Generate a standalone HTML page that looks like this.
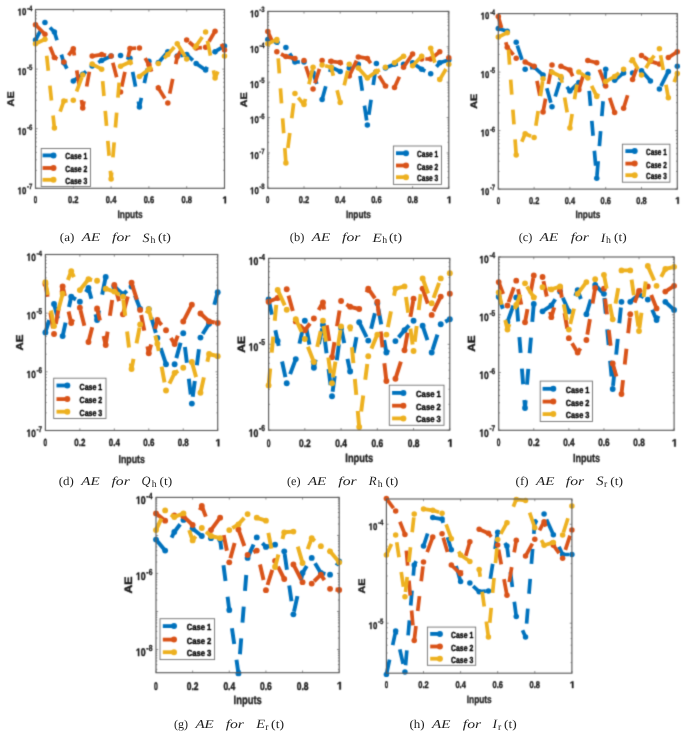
<!DOCTYPE html>
<html><head><meta charset="utf-8"><style>
html,body{margin:0;padding:0;background:#fff;}
svg{display:block}
text{font-family:"Liberation Sans",sans-serif;text-rendering:geometricPrecision}
.tk{font-size:9.8px;font-weight:bold;fill:#1a1a1a;stroke:#1a1a1a;stroke-width:0.4px}
.sup{font-size:7.8px;font-weight:bold;fill:#1a1a1a;stroke:#1a1a1a;stroke-width:0.3px}
.lab{font-size:10.8px;font-weight:bold;fill:#222;stroke:#222;stroke-width:0.3px}
.lab2{font-size:10.9px;font-weight:bold;fill:#1a1a1a;stroke:#1a1a1a;stroke-width:0.4px}
.lg{font-size:8.8px;font-weight:bold;fill:#000;stroke:#000;stroke-width:0.4px}
.cap{font-family:"Liberation Serif",serif;font-size:12px;fill:#1e1e1e}
.it{font-style:italic}
.sb{font-size:9.8px;font-style:normal}
.ln{fill:none;stroke-linejoin:round}
</style></head>
<body><svg width="685" height="733" viewBox="0 0 685 733">
<defs><path id="one1" d="M478 0L478 1170L140 959L140 1180L493 1409L759 1409L759 0Z" fill="#1a1a1a" stroke="#1a1a1a" stroke-width="0.4" vector-effect="non-scaling-stroke"/><filter id="bl" x="0" y="0" width="685" height="733" filterUnits="userSpaceOnUse" color-interpolation-filters="sRGB"><feConvolveMatrix order="3" kernelMatrix="0.0277 0.1110 0.0277 0.1110 0.4452 0.1110 0.0277 0.1110 0.0277" edgeMode="duplicate"/></filter><filter id="idf" x="0" y="0" width="685" height="733" filterUnits="userSpaceOnUse"><feOffset dx="0" dy="0"/></filter></defs>
<g filter="url(#bl)">
<rect width="685" height="733" fill="#fff"/>
<clipPath id="cpa"><rect x="31.5" y="5.5" width="197.0" height="186.8"/></clipPath>
<path d="M35.50 188.30v-2.2M35.50 9.50v2.2M73.30 188.30v-2.2M73.30 9.50v2.2M111.10 188.30v-2.2M111.10 9.50v2.2M148.90 188.30v-2.2M148.90 9.50v2.2M186.70 188.30v-2.2M186.70 9.50v2.2M224.50 188.30v-2.2M224.50 9.50v2.2M35.50 188.30h2.2M224.50 188.30h-2.2M35.50 170.36h1.3M224.50 170.36h-1.3M35.50 159.86h1.3M224.50 159.86h-1.3M35.50 152.42h1.3M224.50 152.42h-1.3M35.50 146.64h1.3M224.50 146.64h-1.3M35.50 141.92h1.3M224.50 141.92h-1.3M35.50 137.93h1.3M224.50 137.93h-1.3M35.50 134.48h1.3M224.50 134.48h-1.3M35.50 131.43h1.3M224.50 131.43h-1.3M35.50 128.70h2.2M224.50 128.70h-2.2M35.50 110.76h1.3M224.50 110.76h-1.3M35.50 100.26h1.3M224.50 100.26h-1.3M35.50 92.82h1.3M224.50 92.82h-1.3M35.50 87.04h1.3M224.50 87.04h-1.3M35.50 82.32h1.3M224.50 82.32h-1.3M35.50 78.33h1.3M224.50 78.33h-1.3M35.50 74.88h1.3M224.50 74.88h-1.3M35.50 71.83h1.3M224.50 71.83h-1.3M35.50 69.10h2.2M224.50 69.10h-2.2M35.50 51.16h1.3M224.50 51.16h-1.3M35.50 40.66h1.3M224.50 40.66h-1.3M35.50 33.22h1.3M224.50 33.22h-1.3M35.50 27.44h1.3M224.50 27.44h-1.3M35.50 22.72h1.3M224.50 22.72h-1.3M35.50 18.73h1.3M224.50 18.73h-1.3M35.50 15.28h1.3M224.50 15.28h-1.3M35.50 12.23h1.3M224.50 12.23h-1.3M35.50 9.50h2.2M224.50 9.50h-2.2" stroke="#4d4d4d" stroke-width="0.6" fill="none"/>
<g transform="translate(35.50,188.30) scale(1.0)"><text x="-1.70" y="15.00" class="tk" textLength="3.4" lengthAdjust="spacingAndGlyphs">0</text></g>
<g transform="translate(73.30,188.30) scale(1.0)"><text x="-5.25" y="15.00" class="tk" textLength="10.5" lengthAdjust="spacingAndGlyphs">0.2</text></g>
<g transform="translate(111.10,188.30) scale(1.0)"><text x="-5.25" y="15.00" class="tk" textLength="10.5" lengthAdjust="spacingAndGlyphs">0.4</text></g>
<g transform="translate(148.90,188.30) scale(1.0)"><text x="-5.25" y="15.00" class="tk" textLength="10.5" lengthAdjust="spacingAndGlyphs">0.6</text></g>
<g transform="translate(186.70,188.30) scale(1.0)"><text x="-5.25" y="15.00" class="tk" textLength="10.5" lengthAdjust="spacingAndGlyphs">0.8</text></g>
<g transform="translate(224.50,188.30) scale(1.0)"><use href="#one1" transform="translate(-2.151,15.0) scale(0.004785,-0.004785)"/></g>
<g transform="translate(35.50,9.50) scale(1.0)"><use href="#one1" transform="translate(-17.9,5.9) scale(0.003819,-0.004785)"/><text x="-13.55" y="5.9" class="tk" textLength="4.35" lengthAdjust="spacingAndGlyphs">0</text><text x="-8.6" y="1.0" class="sup" textLength="5.4" lengthAdjust="spacingAndGlyphs">-4</text></g>
<g transform="translate(35.50,69.10) scale(1.0)"><use href="#one1" transform="translate(-17.9,5.9) scale(0.003819,-0.004785)"/><text x="-13.55" y="5.9" class="tk" textLength="4.35" lengthAdjust="spacingAndGlyphs">0</text><text x="-8.6" y="1.0" class="sup" textLength="5.4" lengthAdjust="spacingAndGlyphs">-5</text></g>
<g transform="translate(35.50,128.70) scale(1.0)"><use href="#one1" transform="translate(-17.9,5.9) scale(0.003819,-0.004785)"/><text x="-13.55" y="5.9" class="tk" textLength="4.35" lengthAdjust="spacingAndGlyphs">0</text><text x="-8.6" y="1.0" class="sup" textLength="5.4" lengthAdjust="spacingAndGlyphs">-6</text></g>
<g transform="translate(35.50,188.30) scale(1.0)"><use href="#one1" transform="translate(-17.9,5.9) scale(0.003819,-0.004785)"/><text x="-13.55" y="5.9" class="tk" textLength="4.35" lengthAdjust="spacingAndGlyphs">0</text><text x="-8.6" y="1.0" class="sup" textLength="5.4" lengthAdjust="spacingAndGlyphs">-7</text></g>
<g transform="translate(130.00,209.70) scale(1.0)"><text x="-12.5" y="8.2" class="lab" textLength="25.2" lengthAdjust="spacingAndGlyphs">Inputs</text></g>
<g transform="translate(35.50,98.90) scale(1.0)"><text transform="translate(-21.5,0) rotate(-90) scale(1,0.88)" class="lab2" text-anchor="middle">AE</text></g>
<g clip-path="url(#cpa)">
<path d="M35.50 40.00 L44.95 22.50 L54.40 32.00 L63.85 62.70 L73.30 80.90 L82.75 74.30 L92.20 66.00 L101.65 60.50 L111.10 56.10 L120.55 55.40 L130.00 58.30" stroke="#0072BD" class="ln" stroke-width="3.70" stroke-dasharray="15.00 15.00" stroke-dashoffset="3.00"/>
<path d="M130.00 58.30 L139.45 107.00 L148.90 61.20 L158.35 62.70 L167.80 51.70 L177.25 56.10 L186.70 54.60 L196.15 63.40" stroke="#0072BD" class="ln" stroke-width="3.70" stroke-dasharray="15.00 15.00" stroke-dashoffset="16.10"/>
<path d="M196.15 63.40 L205.60 70.00 L215.05 51.70 L224.50 45.90" stroke="#0072BD" class="ln" stroke-width="3.70" stroke-dasharray="15.00 15.00" stroke-dashoffset="0.00"/>
<g fill="#0072BD"><circle cx="35.50" cy="40.00" r="2.75"/><circle cx="44.95" cy="22.50" r="2.75"/><circle cx="54.40" cy="32.00" r="2.75"/><circle cx="63.85" cy="62.70" r="2.75"/><circle cx="73.30" cy="80.90" r="2.75"/><circle cx="82.75" cy="74.30" r="2.75"/><circle cx="92.20" cy="66.00" r="2.75"/><circle cx="101.65" cy="60.50" r="2.75"/><circle cx="111.10" cy="56.10" r="2.75"/><circle cx="120.55" cy="55.40" r="2.75"/><circle cx="130.00" cy="58.30" r="2.75"/><circle cx="139.45" cy="107.00" r="2.75"/><circle cx="148.90" cy="61.20" r="2.75"/><circle cx="158.35" cy="62.70" r="2.75"/><circle cx="167.80" cy="51.70" r="2.75"/><circle cx="177.25" cy="56.10" r="2.75"/><circle cx="186.70" cy="54.60" r="2.75"/><circle cx="196.15" cy="63.40" r="2.75"/><circle cx="205.60" cy="70.00" r="2.75"/><circle cx="215.05" cy="51.70" r="2.75"/><circle cx="224.50" cy="45.90" r="2.75"/></g>
<path d="M35.50 24.70 L44.95 34.20 L54.40 57.60 L63.85 61.90 L73.30 48.80 L82.75 108.00 L92.20 56.10 L101.65 54.60 L111.10 56.10" stroke="#D95319" class="ln" stroke-width="3.70" stroke-dasharray="15.00 15.00" stroke-dashoffset="3.00"/>
<path d="M111.10 56.10 L120.55 92.00" stroke="#D95319" class="ln" stroke-width="3.70" stroke-dasharray="15.00 15.00" stroke-dashoffset="23.20"/>
<path d="M120.55 92.00 L130.00 48.50 L139.45 48.00 L148.90 64.80 L158.35 88.00 L167.80 103.00 L177.25 56.80 L186.70 40.00 L196.15 48.00 L205.60 47.30" stroke="#D95319" class="ln" stroke-width="3.70" stroke-dasharray="15.00 15.00" stroke-dashoffset="24.40"/>
<path d="M205.60 47.30 L215.05 31.30" stroke="#D95319" class="ln" stroke-width="3.70" stroke-dasharray="15.00 15.00" stroke-dashoffset="23.30"/>
<path d="M215.05 31.30 L224.50 50.00" stroke="#D95319" class="ln" stroke-width="3.70" stroke-dasharray="15.00 15.00" stroke-dashoffset="16.00"/>
<g fill="#D95319"><circle cx="35.50" cy="24.70" r="2.75"/><circle cx="44.95" cy="34.20" r="2.75"/><circle cx="54.40" cy="57.60" r="2.75"/><circle cx="63.85" cy="61.90" r="2.75"/><circle cx="73.30" cy="48.80" r="2.75"/><circle cx="82.75" cy="108.00" r="2.75"/><circle cx="92.20" cy="56.10" r="2.75"/><circle cx="101.65" cy="54.60" r="2.75"/><circle cx="111.10" cy="56.10" r="2.75"/><circle cx="120.55" cy="92.00" r="2.75"/><circle cx="130.00" cy="48.50" r="2.75"/><circle cx="139.45" cy="48.00" r="2.75"/><circle cx="148.90" cy="64.80" r="2.75"/><circle cx="158.35" cy="88.00" r="2.75"/><circle cx="167.80" cy="103.00" r="2.75"/><circle cx="177.25" cy="56.80" r="2.75"/><circle cx="186.70" cy="40.00" r="2.75"/><circle cx="196.15" cy="48.00" r="2.75"/><circle cx="205.60" cy="47.30" r="2.75"/><circle cx="215.05" cy="31.30" r="2.75"/><circle cx="224.50" cy="50.00" r="2.75"/></g>
<path d="M35.50 43.70 L44.95 39.30 L54.40 128.00 L63.85 101.00 L73.30 100.20 L82.75 75.00 L92.20 64.10 L101.65 69.20" stroke="#EDB120" class="ln" stroke-width="3.70" stroke-dasharray="15.00 15.00" stroke-dashoffset="3.00"/>
<path d="M101.65 69.20 L111.10 179.00 L120.55 66.30 L130.00 62.00 L139.45 76.50 L148.90 69.20 L158.35 63.40 L167.80 54.60 L177.25 43.70" stroke="#EDB120" class="ln" stroke-width="3.70" stroke-dasharray="15.00 15.00" stroke-dashoffset="18.10"/>
<path d="M177.25 43.70 L186.70 59.00 L196.15 45.90 L205.60 32.00 L215.05 78.00 L224.50 56.10" stroke="#EDB120" class="ln" stroke-width="3.70" stroke-dasharray="15.00 15.00" stroke-dashoffset="0.00"/>
<g fill="#EDB120"><circle cx="35.50" cy="43.70" r="2.75"/><circle cx="44.95" cy="39.30" r="2.75"/><circle cx="54.40" cy="128.00" r="2.75"/><circle cx="63.85" cy="101.00" r="2.75"/><circle cx="73.30" cy="100.20" r="2.75"/><circle cx="82.75" cy="75.00" r="2.75"/><circle cx="92.20" cy="64.10" r="2.75"/><circle cx="101.65" cy="69.20" r="2.75"/><circle cx="111.10" cy="179.00" r="2.75"/><circle cx="120.55" cy="66.30" r="2.75"/><circle cx="130.00" cy="62.00" r="2.75"/><circle cx="139.45" cy="76.50" r="2.75"/><circle cx="148.90" cy="69.20" r="2.75"/><circle cx="158.35" cy="63.40" r="2.75"/><circle cx="167.80" cy="54.60" r="2.75"/><circle cx="177.25" cy="43.70" r="2.75"/><circle cx="186.70" cy="59.00" r="2.75"/><circle cx="196.15" cy="45.90" r="2.75"/><circle cx="205.60" cy="32.00" r="2.75"/><circle cx="215.05" cy="78.00" r="2.75"/><circle cx="224.50" cy="56.10" r="2.75"/></g>
</g>
<rect x="35.50" y="9.50" width="189.00" height="178.80" fill="none" stroke="#5a5a5a" stroke-width="1.15"/>
<rect x="41.20" y="148.50" width="49.30" height="38.00" fill="#fff" stroke="#707070" stroke-width="0.9"/>
<path d="M42.60 155.40H53.50" stroke="#0072BD" stroke-width="3.8"/>
<circle cx="53.50" cy="155.40" r="3.0" fill="#0072BD"/>
<text x="65.30" y="159.40" class="lg" textLength="22.00" lengthAdjust="spacingAndGlyphs">Case 1</text>
<path d="M42.60 168.00H53.50" stroke="#D95319" stroke-width="3.8"/>
<circle cx="53.50" cy="168.00" r="3.0" fill="#D95319"/>
<text x="65.30" y="172.00" class="lg" textLength="22.00" lengthAdjust="spacingAndGlyphs">Case 2</text>
<path d="M42.60 179.80H53.50" stroke="#EDB120" stroke-width="3.8"/>
<circle cx="53.50" cy="179.80" r="3.0" fill="#EDB120"/>
<text x="65.30" y="183.80" class="lg" textLength="22.00" lengthAdjust="spacingAndGlyphs">Case 3</text>
<clipPath id="cpb"><rect x="263.8" y="7.4" width="189.0" height="184.9"/></clipPath>
<path d="M267.80 188.30v-2.2M267.80 11.40v2.2M304.00 188.30v-2.2M304.00 11.40v2.2M340.20 188.30v-2.2M340.20 11.40v2.2M376.40 188.30v-2.2M376.40 11.40v2.2M412.60 188.30v-2.2M412.60 11.40v2.2M448.80 188.30v-2.2M448.80 11.40v2.2M267.80 188.30h2.2M448.80 188.30h-2.2M267.80 177.65h1.3M448.80 177.65h-1.3M267.80 171.42h1.3M448.80 171.42h-1.3M267.80 167.00h1.3M448.80 167.00h-1.3M267.80 163.57h1.3M448.80 163.57h-1.3M267.80 160.77h1.3M448.80 160.77h-1.3M267.80 158.40h1.3M448.80 158.40h-1.3M267.80 156.35h1.3M448.80 156.35h-1.3M267.80 154.54h1.3M448.80 154.54h-1.3M267.80 152.92h2.2M448.80 152.92h-2.2M267.80 142.27h1.3M448.80 142.27h-1.3M267.80 136.04h1.3M448.80 136.04h-1.3M267.80 131.62h1.3M448.80 131.62h-1.3M267.80 128.19h1.3M448.80 128.19h-1.3M267.80 125.39h1.3M448.80 125.39h-1.3M267.80 123.02h1.3M448.80 123.02h-1.3M267.80 120.97h1.3M448.80 120.97h-1.3M267.80 119.16h1.3M448.80 119.16h-1.3M267.80 117.54h2.2M448.80 117.54h-2.2M267.80 106.89h1.3M448.80 106.89h-1.3M267.80 100.66h1.3M448.80 100.66h-1.3M267.80 96.24h1.3M448.80 96.24h-1.3M267.80 92.81h1.3M448.80 92.81h-1.3M267.80 90.01h1.3M448.80 90.01h-1.3M267.80 87.64h1.3M448.80 87.64h-1.3M267.80 85.59h1.3M448.80 85.59h-1.3M267.80 83.78h1.3M448.80 83.78h-1.3M267.80 82.16h2.2M448.80 82.16h-2.2M267.80 71.51h1.3M448.80 71.51h-1.3M267.80 65.28h1.3M448.80 65.28h-1.3M267.80 60.86h1.3M448.80 60.86h-1.3M267.80 57.43h1.3M448.80 57.43h-1.3M267.80 54.63h1.3M448.80 54.63h-1.3M267.80 52.26h1.3M448.80 52.26h-1.3M267.80 50.21h1.3M448.80 50.21h-1.3M267.80 48.40h1.3M448.80 48.40h-1.3M267.80 46.78h2.2M448.80 46.78h-2.2M267.80 36.13h1.3M448.80 36.13h-1.3M267.80 29.90h1.3M448.80 29.90h-1.3M267.80 25.48h1.3M448.80 25.48h-1.3M267.80 22.05h1.3M448.80 22.05h-1.3M267.80 19.25h1.3M448.80 19.25h-1.3M267.80 16.88h1.3M448.80 16.88h-1.3M267.80 14.83h1.3M448.80 14.83h-1.3M267.80 13.02h1.3M448.80 13.02h-1.3M267.80 11.40h2.2M448.80 11.40h-2.2" stroke="#4d4d4d" stroke-width="0.6" fill="none"/>
<g transform="translate(267.80,188.30) scale(0.99)"><text x="-1.70" y="15.00" class="tk" textLength="3.4" lengthAdjust="spacingAndGlyphs">0</text></g>
<g transform="translate(304.00,188.30) scale(0.99)"><text x="-5.25" y="15.00" class="tk" textLength="10.5" lengthAdjust="spacingAndGlyphs">0.2</text></g>
<g transform="translate(340.20,188.30) scale(0.99)"><text x="-5.25" y="15.00" class="tk" textLength="10.5" lengthAdjust="spacingAndGlyphs">0.4</text></g>
<g transform="translate(376.40,188.30) scale(0.99)"><text x="-5.25" y="15.00" class="tk" textLength="10.5" lengthAdjust="spacingAndGlyphs">0.6</text></g>
<g transform="translate(412.60,188.30) scale(0.99)"><text x="-5.25" y="15.00" class="tk" textLength="10.5" lengthAdjust="spacingAndGlyphs">0.8</text></g>
<g transform="translate(448.80,188.30) scale(0.99)"><use href="#one1" transform="translate(-2.151,15.0) scale(0.004785,-0.004785)"/></g>
<g transform="translate(267.80,11.40) scale(0.99)"><use href="#one1" transform="translate(-17.9,5.9) scale(0.003819,-0.004785)"/><text x="-13.55" y="5.9" class="tk" textLength="4.35" lengthAdjust="spacingAndGlyphs">0</text><text x="-8.6" y="1.0" class="sup" textLength="5.4" lengthAdjust="spacingAndGlyphs">-3</text></g>
<g transform="translate(267.80,46.78) scale(0.99)"><use href="#one1" transform="translate(-17.9,5.9) scale(0.003819,-0.004785)"/><text x="-13.55" y="5.9" class="tk" textLength="4.35" lengthAdjust="spacingAndGlyphs">0</text><text x="-8.6" y="1.0" class="sup" textLength="5.4" lengthAdjust="spacingAndGlyphs">-4</text></g>
<g transform="translate(267.80,82.16) scale(0.99)"><use href="#one1" transform="translate(-17.9,5.9) scale(0.003819,-0.004785)"/><text x="-13.55" y="5.9" class="tk" textLength="4.35" lengthAdjust="spacingAndGlyphs">0</text><text x="-8.6" y="1.0" class="sup" textLength="5.4" lengthAdjust="spacingAndGlyphs">-5</text></g>
<g transform="translate(267.80,117.54) scale(0.99)"><use href="#one1" transform="translate(-17.9,5.9) scale(0.003819,-0.004785)"/><text x="-13.55" y="5.9" class="tk" textLength="4.35" lengthAdjust="spacingAndGlyphs">0</text><text x="-8.6" y="1.0" class="sup" textLength="5.4" lengthAdjust="spacingAndGlyphs">-6</text></g>
<g transform="translate(267.80,152.92) scale(0.99)"><use href="#one1" transform="translate(-17.9,5.9) scale(0.003819,-0.004785)"/><text x="-13.55" y="5.9" class="tk" textLength="4.35" lengthAdjust="spacingAndGlyphs">0</text><text x="-8.6" y="1.0" class="sup" textLength="5.4" lengthAdjust="spacingAndGlyphs">-7</text></g>
<g transform="translate(267.80,188.30) scale(0.99)"><use href="#one1" transform="translate(-17.9,5.9) scale(0.003819,-0.004785)"/><text x="-13.55" y="5.9" class="tk" textLength="4.35" lengthAdjust="spacingAndGlyphs">0</text><text x="-8.6" y="1.0" class="sup" textLength="5.4" lengthAdjust="spacingAndGlyphs">-8</text></g>
<g transform="translate(358.30,209.50) scale(0.99)"><text x="-12.5" y="8.2" class="lab" textLength="25.2" lengthAdjust="spacingAndGlyphs">Inputs</text></g>
<g transform="translate(267.80,99.85) scale(0.99)"><text transform="translate(-21.5,0) rotate(-90) scale(1,0.88)" class="lab2" text-anchor="middle">AE</text></g>
<g clip-path="url(#cpb)">
<path d="M267.80 39.40 L276.85 42.30 L285.90 47.40 L294.95 62.00 L304.00 62.00 L313.05 73.00 L322.10 99.50 L331.15 67.20 L340.20 71.50 L349.25 67.90 L358.30 64.20" stroke="#0072BD" class="ln" stroke-width="3.70" stroke-dasharray="15.00 15.00" stroke-dashoffset="3.00"/>
<path d="M358.30 64.20 L367.35 125.00 L376.40 63.50 L385.45 67.90 L394.50 64.20 L403.55 64.20 L412.60 62.80 L421.65 69.30 L430.70 73.70 L439.75 62.80 L448.80 59.90" stroke="#0072BD" class="ln" stroke-width="3.70" stroke-dasharray="15.00 15.00" stroke-dashoffset="18.10"/>
<g fill="#0072BD"><circle cx="267.80" cy="39.40" r="2.75"/><circle cx="276.85" cy="42.30" r="2.75"/><circle cx="285.90" cy="47.40" r="2.75"/><circle cx="294.95" cy="62.00" r="2.75"/><circle cx="304.00" cy="62.00" r="2.75"/><circle cx="313.05" cy="73.00" r="2.75"/><circle cx="322.10" cy="99.50" r="2.75"/><circle cx="331.15" cy="67.20" r="2.75"/><circle cx="340.20" cy="71.50" r="2.75"/><circle cx="349.25" cy="67.90" r="2.75"/><circle cx="358.30" cy="64.20" r="2.75"/><circle cx="367.35" cy="125.00" r="2.75"/><circle cx="376.40" cy="63.50" r="2.75"/><circle cx="385.45" cy="67.90" r="2.75"/><circle cx="394.50" cy="64.20" r="2.75"/><circle cx="403.55" cy="64.20" r="2.75"/><circle cx="412.60" cy="62.80" r="2.75"/><circle cx="421.65" cy="69.30" r="2.75"/><circle cx="430.70" cy="73.70" r="2.75"/><circle cx="439.75" cy="62.80" r="2.75"/><circle cx="448.80" cy="59.90" r="2.75"/></g>
<path d="M267.80 31.40 L276.85 51.80 L285.90 56.60 L294.95 58.40 L304.00 60.60 L313.05 89.00 L322.10 60.60 L331.15 61.30 L340.20 62.50 L349.25 75.90 L358.30 56.90" stroke="#D95319" class="ln" stroke-width="3.70" stroke-dasharray="15.00 15.00" stroke-dashoffset="3.00"/>
<path d="M358.30 56.90 L367.35 58.40 L376.40 71.50 L385.45 86.10 L394.50 87.60" stroke="#D95319" class="ln" stroke-width="3.70" stroke-dasharray="15.00 15.00" stroke-dashoffset="0.00"/>
<path d="M394.50 87.60 L403.55 67.20" stroke="#D95319" class="ln" stroke-width="3.70" stroke-dasharray="15.00 15.00" stroke-dashoffset="3.00"/>
<path d="M403.55 67.20 L412.60 54.00 L421.65 59.00 L430.70 59.00 L439.75 51.80 L448.80 57.70" stroke="#D95319" class="ln" stroke-width="3.70" stroke-dasharray="15.00 15.00" stroke-dashoffset="0.00"/>
<g fill="#D95319"><circle cx="267.80" cy="31.40" r="2.75"/><circle cx="276.85" cy="51.80" r="2.75"/><circle cx="285.90" cy="56.60" r="2.75"/><circle cx="294.95" cy="58.40" r="2.75"/><circle cx="304.00" cy="60.60" r="2.75"/><circle cx="313.05" cy="89.00" r="2.75"/><circle cx="322.10" cy="60.60" r="2.75"/><circle cx="331.15" cy="61.30" r="2.75"/><circle cx="340.20" cy="62.50" r="2.75"/><circle cx="349.25" cy="75.90" r="2.75"/><circle cx="358.30" cy="56.90" r="2.75"/><circle cx="367.35" cy="58.40" r="2.75"/><circle cx="376.40" cy="71.50" r="2.75"/><circle cx="385.45" cy="86.10" r="2.75"/><circle cx="394.50" cy="87.60" r="2.75"/><circle cx="403.55" cy="67.20" r="2.75"/><circle cx="412.60" cy="54.00" r="2.75"/><circle cx="421.65" cy="59.00" r="2.75"/><circle cx="430.70" cy="59.00" r="2.75"/><circle cx="439.75" cy="51.80" r="2.75"/><circle cx="448.80" cy="57.70" r="2.75"/></g>
<path d="M267.80 43.80 L276.85 39.40" stroke="#EDB120" class="ln" stroke-width="3.70" stroke-dasharray="15.00 15.00" stroke-dashoffset="3.00"/>
<path d="M276.85 39.40 L285.90 163.00 L294.95 93.60 L304.00 104.60 L313.05 67.20 L322.10 65.00 L331.15 67.20 L340.20 102.40 L349.25 64.20 L358.30 67.90 L367.35 78.10" stroke="#EDB120" class="ln" stroke-width="3.70" stroke-dasharray="15.00 15.00" stroke-dashoffset="10.90"/>
<path d="M367.35 78.10 L376.40 71.50 L385.45 67.20 L394.50 62.80 L403.55 56.20 L412.60 65.70" stroke="#EDB120" class="ln" stroke-width="3.70" stroke-dasharray="15.00 15.00" stroke-dashoffset="0.00"/>
<path d="M412.60 65.70 L421.65 56.20 L430.70 48.20" stroke="#EDB120" class="ln" stroke-width="3.70" stroke-dasharray="15.00 15.00" stroke-dashoffset="0.00"/>
<path d="M430.70 48.20 L439.75 79.60 L448.80 64.20" stroke="#EDB120" class="ln" stroke-width="3.70" stroke-dasharray="15.00 15.00" stroke-dashoffset="0.00"/>
<g fill="#EDB120"><circle cx="267.80" cy="43.80" r="2.75"/><circle cx="276.85" cy="39.40" r="2.75"/><circle cx="285.90" cy="163.00" r="2.75"/><circle cx="294.95" cy="93.60" r="2.75"/><circle cx="304.00" cy="104.60" r="2.75"/><circle cx="313.05" cy="67.20" r="2.75"/><circle cx="322.10" cy="65.00" r="2.75"/><circle cx="331.15" cy="67.20" r="2.75"/><circle cx="340.20" cy="102.40" r="2.75"/><circle cx="349.25" cy="64.20" r="2.75"/><circle cx="358.30" cy="67.90" r="2.75"/><circle cx="367.35" cy="78.10" r="2.75"/><circle cx="376.40" cy="71.50" r="2.75"/><circle cx="385.45" cy="67.20" r="2.75"/><circle cx="394.50" cy="62.80" r="2.75"/><circle cx="403.55" cy="56.20" r="2.75"/><circle cx="412.60" cy="65.70" r="2.75"/><circle cx="421.65" cy="56.20" r="2.75"/><circle cx="430.70" cy="48.20" r="2.75"/><circle cx="439.75" cy="79.60" r="2.75"/><circle cx="448.80" cy="64.20" r="2.75"/></g>
</g>
<rect x="267.80" y="11.40" width="181.00" height="176.90" fill="none" stroke="#5a5a5a" stroke-width="1.15"/>
<rect x="393.40" y="146.00" width="48.10" height="38.40" fill="#fff" stroke="#707070" stroke-width="0.9"/>
<path d="M396.00 153.20H406.00" stroke="#0072BD" stroke-width="3.8"/>
<circle cx="406.00" cy="153.20" r="3.0" fill="#0072BD"/>
<text x="417.10" y="157.20" class="lg" textLength="21.10" lengthAdjust="spacingAndGlyphs">Case 1</text>
<path d="M396.00 165.50H406.00" stroke="#D95319" stroke-width="3.8"/>
<circle cx="406.00" cy="165.50" r="3.0" fill="#D95319"/>
<text x="417.10" y="169.50" class="lg" textLength="21.10" lengthAdjust="spacingAndGlyphs">Case 2</text>
<path d="M396.00 177.20H406.00" stroke="#EDB120" stroke-width="3.8"/>
<circle cx="406.00" cy="177.20" r="3.0" fill="#EDB120"/>
<text x="417.10" y="181.20" class="lg" textLength="21.10" lengthAdjust="spacingAndGlyphs">Case 3</text>
<clipPath id="cpc"><rect x="494.3" y="9.6" width="187.0" height="183.5"/></clipPath>
<path d="M498.30 189.10v-2.2M498.30 13.60v2.2M534.10 189.10v-2.2M534.10 13.60v2.2M569.90 189.10v-2.2M569.90 13.60v2.2M605.70 189.10v-2.2M605.70 13.60v2.2M641.50 189.10v-2.2M641.50 13.60v2.2M677.30 189.10v-2.2M677.30 13.60v2.2M498.30 189.10h2.2M677.30 189.10h-2.2M498.30 171.49h1.3M677.30 171.49h-1.3M498.30 161.19h1.3M677.30 161.19h-1.3M498.30 153.88h1.3M677.30 153.88h-1.3M498.30 148.21h1.3M677.30 148.21h-1.3M498.30 143.58h1.3M677.30 143.58h-1.3M498.30 139.66h1.3M677.30 139.66h-1.3M498.30 136.27h1.3M677.30 136.27h-1.3M498.30 133.28h1.3M677.30 133.28h-1.3M498.30 130.60h2.2M677.30 130.60h-2.2M498.30 112.99h1.3M677.30 112.99h-1.3M498.30 102.69h1.3M677.30 102.69h-1.3M498.30 95.38h1.3M677.30 95.38h-1.3M498.30 89.71h1.3M677.30 89.71h-1.3M498.30 85.08h1.3M677.30 85.08h-1.3M498.30 81.16h1.3M677.30 81.16h-1.3M498.30 77.77h1.3M677.30 77.77h-1.3M498.30 74.78h1.3M677.30 74.78h-1.3M498.30 72.10h2.2M677.30 72.10h-2.2M498.30 54.49h1.3M677.30 54.49h-1.3M498.30 44.19h1.3M677.30 44.19h-1.3M498.30 36.88h1.3M677.30 36.88h-1.3M498.30 31.21h1.3M677.30 31.21h-1.3M498.30 26.58h1.3M677.30 26.58h-1.3M498.30 22.66h1.3M677.30 22.66h-1.3M498.30 19.27h1.3M677.30 19.27h-1.3M498.30 16.28h1.3M677.30 16.28h-1.3M498.30 13.60h2.2M677.30 13.60h-2.2" stroke="#4d4d4d" stroke-width="0.6" fill="none"/>
<g transform="translate(498.30,189.10) scale(0.98)"><text x="-1.70" y="15.00" class="tk" textLength="3.4" lengthAdjust="spacingAndGlyphs">0</text></g>
<g transform="translate(534.10,189.10) scale(0.98)"><text x="-5.25" y="15.00" class="tk" textLength="10.5" lengthAdjust="spacingAndGlyphs">0.2</text></g>
<g transform="translate(569.90,189.10) scale(0.98)"><text x="-5.25" y="15.00" class="tk" textLength="10.5" lengthAdjust="spacingAndGlyphs">0.4</text></g>
<g transform="translate(605.70,189.10) scale(0.98)"><text x="-5.25" y="15.00" class="tk" textLength="10.5" lengthAdjust="spacingAndGlyphs">0.6</text></g>
<g transform="translate(641.50,189.10) scale(0.98)"><text x="-5.25" y="15.00" class="tk" textLength="10.5" lengthAdjust="spacingAndGlyphs">0.8</text></g>
<g transform="translate(677.30,189.10) scale(0.98)"><use href="#one1" transform="translate(-2.151,15.0) scale(0.004785,-0.004785)"/></g>
<g transform="translate(498.30,13.60) scale(0.98)"><use href="#one1" transform="translate(-17.9,5.9) scale(0.003819,-0.004785)"/><text x="-13.55" y="5.9" class="tk" textLength="4.35" lengthAdjust="spacingAndGlyphs">0</text><text x="-8.6" y="1.0" class="sup" textLength="5.4" lengthAdjust="spacingAndGlyphs">-4</text></g>
<g transform="translate(498.30,72.10) scale(0.98)"><use href="#one1" transform="translate(-17.9,5.9) scale(0.003819,-0.004785)"/><text x="-13.55" y="5.9" class="tk" textLength="4.35" lengthAdjust="spacingAndGlyphs">0</text><text x="-8.6" y="1.0" class="sup" textLength="5.4" lengthAdjust="spacingAndGlyphs">-5</text></g>
<g transform="translate(498.30,130.60) scale(0.98)"><use href="#one1" transform="translate(-17.9,5.9) scale(0.003819,-0.004785)"/><text x="-13.55" y="5.9" class="tk" textLength="4.35" lengthAdjust="spacingAndGlyphs">0</text><text x="-8.6" y="1.0" class="sup" textLength="5.4" lengthAdjust="spacingAndGlyphs">-6</text></g>
<g transform="translate(498.30,189.10) scale(0.98)"><use href="#one1" transform="translate(-17.9,5.9) scale(0.003819,-0.004785)"/><text x="-13.55" y="5.9" class="tk" textLength="4.35" lengthAdjust="spacingAndGlyphs">0</text><text x="-8.6" y="1.0" class="sup" textLength="5.4" lengthAdjust="spacingAndGlyphs">-7</text></g>
<g transform="translate(587.80,210.20) scale(0.98)"><text x="-12.5" y="8.2" class="lab" textLength="25.2" lengthAdjust="spacingAndGlyphs">Inputs</text></g>
<g transform="translate(498.30,101.35) scale(0.98)"><text transform="translate(-21.5,0) rotate(-90) scale(1,0.88)" class="lab2" text-anchor="middle">AE</text></g>
<g clip-path="url(#cpc)">
<path d="M498.30 28.40 L507.25 31.30 L516.20 42.20 L525.15 69.20 L534.10 67.00 L543.05 75.10 L552.00 106.80 L560.95 78.00 L569.90 91.10 L578.85 82.40 L587.80 74.30" stroke="#0072BD" class="ln" stroke-width="3.70" stroke-dasharray="15.00 15.00" stroke-dashoffset="3.00"/>
<path d="M587.80 74.30 L596.75 178.30 L605.70 69.20 L614.65 80.20 L623.60 72.90 L632.55 72.90 L641.50 70.70 L650.45 80.90 L659.40 89.00 L668.35 71.40 L677.30 66.30" stroke="#0072BD" class="ln" stroke-width="3.70" stroke-dasharray="15.00 15.00" stroke-dashoffset="13.30"/>
<g fill="#0072BD"><circle cx="498.30" cy="28.40" r="2.75"/><circle cx="507.25" cy="31.30" r="2.75"/><circle cx="516.20" cy="42.20" r="2.75"/><circle cx="525.15" cy="69.20" r="2.75"/><circle cx="534.10" cy="67.00" r="2.75"/><circle cx="543.05" cy="75.10" r="2.75"/><circle cx="552.00" cy="106.80" r="2.75"/><circle cx="560.95" cy="78.00" r="2.75"/><circle cx="569.90" cy="91.10" r="2.75"/><circle cx="578.85" cy="82.40" r="2.75"/><circle cx="587.80" cy="74.30" r="2.75"/><circle cx="596.75" cy="178.30" r="2.75"/><circle cx="605.70" cy="69.20" r="2.75"/><circle cx="614.65" cy="80.20" r="2.75"/><circle cx="623.60" cy="72.90" r="2.75"/><circle cx="632.55" cy="72.90" r="2.75"/><circle cx="641.50" cy="70.70" r="2.75"/><circle cx="650.45" cy="80.90" r="2.75"/><circle cx="659.40" cy="89.00" r="2.75"/><circle cx="668.35" cy="71.40" r="2.75"/><circle cx="677.30" cy="66.30" r="2.75"/></g>
<path d="M498.30 16.40 L507.25 47.30 L516.20 58.30 L525.15 61.90 L534.10 66.30" stroke="#D95319" class="ln" stroke-width="3.70" stroke-dasharray="15.00 15.00" stroke-dashoffset="3.00"/>
<path d="M534.10 66.30 L543.05 111.90 L552.00 64.90 L560.95 66.30 L569.90 70.00 L578.85 89.70 L587.80 60.50 L596.75 62.70" stroke="#D95319" class="ln" stroke-width="3.70" stroke-dasharray="15.00 15.00" stroke-dashoffset="15.10"/>
<path d="M596.75 62.70 L605.70 86.00 L614.65 112.60 L623.60 108.20" stroke="#D95319" class="ln" stroke-width="3.70" stroke-dasharray="15.00 15.00" stroke-dashoffset="22.60"/>
<path d="M623.60 108.20 L632.55 79.50 L641.50 55.40 L650.45 61.20 L659.40 64.10 L668.35 57.60 L677.30 51.70" stroke="#D95319" class="ln" stroke-width="3.70" stroke-dasharray="15.00 15.00" stroke-dashoffset="1.50"/>
<g fill="#D95319"><circle cx="498.30" cy="16.40" r="2.75"/><circle cx="507.25" cy="47.30" r="2.75"/><circle cx="516.20" cy="58.30" r="2.75"/><circle cx="525.15" cy="61.90" r="2.75"/><circle cx="534.10" cy="66.30" r="2.75"/><circle cx="543.05" cy="111.90" r="2.75"/><circle cx="552.00" cy="64.90" r="2.75"/><circle cx="560.95" cy="66.30" r="2.75"/><circle cx="569.90" cy="70.00" r="2.75"/><circle cx="578.85" cy="89.70" r="2.75"/><circle cx="587.80" cy="60.50" r="2.75"/><circle cx="596.75" cy="62.70" r="2.75"/><circle cx="605.70" cy="86.00" r="2.75"/><circle cx="614.65" cy="112.60" r="2.75"/><circle cx="623.60" cy="108.20" r="2.75"/><circle cx="632.55" cy="79.50" r="2.75"/><circle cx="641.50" cy="55.40" r="2.75"/><circle cx="650.45" cy="61.20" r="2.75"/><circle cx="659.40" cy="64.10" r="2.75"/><circle cx="668.35" cy="57.60" r="2.75"/><circle cx="677.30" cy="51.70" r="2.75"/></g>
<path d="M498.30 37.10 L507.25 32.70 L516.20 155.00 L525.15 133.80 L534.10 137.40 L543.05 78.70 L552.00 72.20 L560.95 76.50 L569.90 128.00 L578.85 72.00 L587.80 78.00" stroke="#EDB120" class="ln" stroke-width="3.70" stroke-dasharray="15.00 15.00" stroke-dashoffset="3.00"/>
<path d="M587.80 78.00 L596.75 96.40 L605.70 81.60 L614.65 76.50 L623.60 69.20 L632.55 59.70 L641.50 75.00 L650.45 60.50 L659.40 48.80 L668.35 97.80 L677.30 73.60" stroke="#EDB120" class="ln" stroke-width="3.70" stroke-dasharray="15.00 15.00" stroke-dashoffset="21.30"/>
<g fill="#EDB120"><circle cx="498.30" cy="37.10" r="2.75"/><circle cx="507.25" cy="32.70" r="2.75"/><circle cx="516.20" cy="155.00" r="2.75"/><circle cx="525.15" cy="133.80" r="2.75"/><circle cx="534.10" cy="137.40" r="2.75"/><circle cx="543.05" cy="78.70" r="2.75"/><circle cx="552.00" cy="72.20" r="2.75"/><circle cx="560.95" cy="76.50" r="2.75"/><circle cx="569.90" cy="128.00" r="2.75"/><circle cx="578.85" cy="72.00" r="2.75"/><circle cx="587.80" cy="78.00" r="2.75"/><circle cx="596.75" cy="96.40" r="2.75"/><circle cx="605.70" cy="81.60" r="2.75"/><circle cx="614.65" cy="76.50" r="2.75"/><circle cx="623.60" cy="69.20" r="2.75"/><circle cx="632.55" cy="59.70" r="2.75"/><circle cx="641.50" cy="75.00" r="2.75"/><circle cx="650.45" cy="60.50" r="2.75"/><circle cx="659.40" cy="48.80" r="2.75"/><circle cx="668.35" cy="97.80" r="2.75"/><circle cx="677.30" cy="73.60" r="2.75"/></g>
</g>
<rect x="498.30" y="13.60" width="179.00" height="175.50" fill="none" stroke="#5a5a5a" stroke-width="1.15"/>
<rect x="622.40" y="144.20" width="47.50" height="38.00" fill="#fff" stroke="#707070" stroke-width="0.9"/>
<path d="M625.40 151.10H634.70" stroke="#0072BD" stroke-width="3.8"/>
<circle cx="634.70" cy="151.10" r="3.0" fill="#0072BD"/>
<text x="646.10" y="155.10" class="lg" textLength="20.60" lengthAdjust="spacingAndGlyphs">Case 1</text>
<path d="M625.40 163.60H634.70" stroke="#D95319" stroke-width="3.8"/>
<circle cx="634.70" cy="163.60" r="3.0" fill="#D95319"/>
<text x="646.10" y="167.60" class="lg" textLength="20.60" lengthAdjust="spacingAndGlyphs">Case 2</text>
<path d="M625.40 175.20H634.70" stroke="#EDB120" stroke-width="3.8"/>
<circle cx="634.70" cy="175.20" r="3.0" fill="#EDB120"/>
<text x="646.10" y="179.20" class="lg" textLength="20.60" lengthAdjust="spacingAndGlyphs">Case 3</text>
<clipPath id="cpd"><rect x="41.4" y="250.5" width="180.3" height="184.0"/></clipPath>
<path d="M45.40 430.50v-2.2M45.40 254.50v2.2M79.86 430.50v-2.2M79.86 254.50v2.2M114.32 430.50v-2.2M114.32 254.50v2.2M148.78 430.50v-2.2M148.78 254.50v2.2M183.24 430.50v-2.2M183.24 254.50v2.2M217.70 430.50v-2.2M217.70 254.50v2.2M45.40 430.50h2.2M217.70 430.50h-2.2M45.40 412.84h1.3M217.70 412.84h-1.3M45.40 402.51h1.3M217.70 402.51h-1.3M45.40 395.18h1.3M217.70 395.18h-1.3M45.40 389.49h1.3M217.70 389.49h-1.3M45.40 384.85h1.3M217.70 384.85h-1.3M45.40 380.92h1.3M217.70 380.92h-1.3M45.40 377.52h1.3M217.70 377.52h-1.3M45.40 374.52h1.3M217.70 374.52h-1.3M45.40 371.83h2.2M217.70 371.83h-2.2M45.40 354.17h1.3M217.70 354.17h-1.3M45.40 343.84h1.3M217.70 343.84h-1.3M45.40 336.51h1.3M217.70 336.51h-1.3M45.40 330.83h1.3M217.70 330.83h-1.3M45.40 326.18h1.3M217.70 326.18h-1.3M45.40 322.25h1.3M217.70 322.25h-1.3M45.40 318.85h1.3M217.70 318.85h-1.3M45.40 315.85h1.3M217.70 315.85h-1.3M45.40 313.17h2.2M217.70 313.17h-2.2M45.40 295.51h1.3M217.70 295.51h-1.3M45.40 285.18h1.3M217.70 285.18h-1.3M45.40 277.85h1.3M217.70 277.85h-1.3M45.40 272.16h1.3M217.70 272.16h-1.3M45.40 267.52h1.3M217.70 267.52h-1.3M45.40 263.59h1.3M217.70 263.59h-1.3M45.40 260.19h1.3M217.70 260.19h-1.3M45.40 257.18h1.3M217.70 257.18h-1.3M45.40 254.50h2.2M217.70 254.50h-2.2" stroke="#4d4d4d" stroke-width="0.6" fill="none"/>
<g transform="translate(45.40,430.50) scale(1.05)"><text x="-1.70" y="15.00" class="tk" textLength="3.4" lengthAdjust="spacingAndGlyphs">0</text></g>
<g transform="translate(79.86,430.50) scale(1.05)"><text x="-5.25" y="15.00" class="tk" textLength="10.5" lengthAdjust="spacingAndGlyphs">0.2</text></g>
<g transform="translate(114.32,430.50) scale(1.05)"><text x="-5.25" y="15.00" class="tk" textLength="10.5" lengthAdjust="spacingAndGlyphs">0.4</text></g>
<g transform="translate(148.78,430.50) scale(1.05)"><text x="-5.25" y="15.00" class="tk" textLength="10.5" lengthAdjust="spacingAndGlyphs">0.6</text></g>
<g transform="translate(183.24,430.50) scale(1.05)"><text x="-5.25" y="15.00" class="tk" textLength="10.5" lengthAdjust="spacingAndGlyphs">0.8</text></g>
<g transform="translate(217.70,430.50) scale(1.05)"><use href="#one1" transform="translate(-2.151,15.0) scale(0.004785,-0.004785)"/></g>
<g transform="translate(45.40,254.50) scale(1.05)"><use href="#one1" transform="translate(-17.9,5.9) scale(0.003819,-0.004785)"/><text x="-13.55" y="5.9" class="tk" textLength="4.35" lengthAdjust="spacingAndGlyphs">0</text><text x="-8.6" y="1.0" class="sup" textLength="5.4" lengthAdjust="spacingAndGlyphs">-4</text></g>
<g transform="translate(45.40,313.17) scale(1.05)"><use href="#one1" transform="translate(-17.9,5.9) scale(0.003819,-0.004785)"/><text x="-13.55" y="5.9" class="tk" textLength="4.35" lengthAdjust="spacingAndGlyphs">0</text><text x="-8.6" y="1.0" class="sup" textLength="5.4" lengthAdjust="spacingAndGlyphs">-5</text></g>
<g transform="translate(45.40,371.83) scale(1.05)"><use href="#one1" transform="translate(-17.9,5.9) scale(0.003819,-0.004785)"/><text x="-13.55" y="5.9" class="tk" textLength="4.35" lengthAdjust="spacingAndGlyphs">0</text><text x="-8.6" y="1.0" class="sup" textLength="5.4" lengthAdjust="spacingAndGlyphs">-6</text></g>
<g transform="translate(45.40,430.50) scale(1.05)"><use href="#one1" transform="translate(-17.9,5.9) scale(0.003819,-0.004785)"/><text x="-13.55" y="5.9" class="tk" textLength="4.35" lengthAdjust="spacingAndGlyphs">0</text><text x="-8.6" y="1.0" class="sup" textLength="5.4" lengthAdjust="spacingAndGlyphs">-7</text></g>
<g transform="translate(131.55,453.90) scale(1.05)"><text x="-12.5" y="8.2" class="lab" textLength="25.2" lengthAdjust="spacingAndGlyphs">Inputs</text></g>
<g transform="translate(45.40,342.50) scale(1.05)"><text transform="translate(-21.5,0) rotate(-90) scale(1,0.88)" class="lab2" text-anchor="middle">AE</text></g>
<g clip-path="url(#cpd)">
<path d="M45.40 332.50 L54.02 304.00 L62.63 336.10 L71.25 296.70 L79.86 301.80 L88.47 288.00 L97.09 320.00 L105.70 277.00 L114.32 286.50 L122.94 294.50 L131.55 286.50 L140.16 309.00 L148.78 309.10 L157.39 338.00 L166.01 364.20 L174.62 364.20 L183.24 333.20" stroke="#0072BD" class="ln" stroke-width="3.94" stroke-dasharray="15.97 15.97" stroke-dashoffset="3.00"/>
<path d="M183.24 333.20 L191.85 403.60 L200.47 337.60 L209.09 323.70 L217.70 292.30" stroke="#0072BD" class="ln" stroke-width="3.94" stroke-dasharray="15.97 15.97" stroke-dashoffset="18.05"/>
<g fill="#0072BD"><circle cx="45.40" cy="332.50" r="2.93"/><circle cx="54.02" cy="304.00" r="2.93"/><circle cx="62.63" cy="336.10" r="2.93"/><circle cx="71.25" cy="296.70" r="2.93"/><circle cx="79.86" cy="301.80" r="2.93"/><circle cx="88.47" cy="288.00" r="2.93"/><circle cx="97.09" cy="320.00" r="2.93"/><circle cx="105.70" cy="277.00" r="2.93"/><circle cx="114.32" cy="286.50" r="2.93"/><circle cx="122.94" cy="294.50" r="2.93"/><circle cx="131.55" cy="286.50" r="2.93"/><circle cx="140.16" cy="309.00" r="2.93"/><circle cx="148.78" cy="309.10" r="2.93"/><circle cx="157.39" cy="338.00" r="2.93"/><circle cx="166.01" cy="364.20" r="2.93"/><circle cx="174.62" cy="364.20" r="2.93"/><circle cx="183.24" cy="333.20" r="2.93"/><circle cx="191.85" cy="403.60" r="2.93"/><circle cx="200.47" cy="337.60" r="2.93"/><circle cx="209.09" cy="323.70" r="2.93"/><circle cx="217.70" cy="292.30" r="2.93"/></g>
<path d="M45.40 284.00 L54.02 334.00 L62.63 286.50 L71.25 323.00 L79.86 307.70 L88.47 342.00 L97.09 308.40 L105.70 345.00" stroke="#D95319" class="ln" stroke-width="3.94" stroke-dasharray="15.97 15.97" stroke-dashoffset="3.00"/>
<path d="M105.70 345.00 L114.32 285.00 L122.94 314.20 L131.55 282.80 L140.16 309.90 L148.78 353.20 L157.39 320.00 L166.01 330.30 L174.62 344.00 L183.24 321.50 L191.85 304.70 L200.47 313.50 L209.09 321.50 L217.70 323.00" stroke="#D95319" class="ln" stroke-width="3.94" stroke-dasharray="15.97 15.97" stroke-dashoffset="2.45"/>
<g fill="#D95319"><circle cx="45.40" cy="284.00" r="2.93"/><circle cx="54.02" cy="334.00" r="2.93"/><circle cx="62.63" cy="286.50" r="2.93"/><circle cx="71.25" cy="323.00" r="2.93"/><circle cx="79.86" cy="307.70" r="2.93"/><circle cx="88.47" cy="342.00" r="2.93"/><circle cx="97.09" cy="308.40" r="2.93"/><circle cx="105.70" cy="345.00" r="2.93"/><circle cx="114.32" cy="285.00" r="2.93"/><circle cx="122.94" cy="314.20" r="2.93"/><circle cx="131.55" cy="282.80" r="2.93"/><circle cx="140.16" cy="309.90" r="2.93"/><circle cx="148.78" cy="353.20" r="2.93"/><circle cx="157.39" cy="320.00" r="2.93"/><circle cx="166.01" cy="330.30" r="2.93"/><circle cx="174.62" cy="344.00" r="2.93"/><circle cx="183.24" cy="321.50" r="2.93"/><circle cx="191.85" cy="304.70" r="2.93"/><circle cx="200.47" cy="313.50" r="2.93"/><circle cx="209.09" cy="321.50" r="2.93"/><circle cx="217.70" cy="323.00" r="2.93"/></g>
<path d="M45.40 282.10 L54.02 326.00 L62.63 293.80 L71.25 271.20 L79.86 290.10 L88.47 279.20 L97.09 280.70 L105.70 288.70 L114.32 291.60 L122.94 296.70" stroke="#EDB120" class="ln" stroke-width="3.94" stroke-dasharray="15.97 15.97" stroke-dashoffset="3.00"/>
<path d="M122.94 296.70 L131.55 369.00 L140.16 324.50 L148.78 309.10 L157.39 343.80 L166.01 390.50 L174.62 373.00 L183.24 367.80 L191.85 362.00 L200.47 392.70 L209.09 354.00 L217.70 356.20" stroke="#EDB120" class="ln" stroke-width="3.94" stroke-dasharray="15.97 15.97" stroke-dashoffset="28.75"/>
<g fill="#EDB120"><circle cx="45.40" cy="282.10" r="2.93"/><circle cx="54.02" cy="326.00" r="2.93"/><circle cx="62.63" cy="293.80" r="2.93"/><circle cx="71.25" cy="271.20" r="2.93"/><circle cx="79.86" cy="290.10" r="2.93"/><circle cx="88.47" cy="279.20" r="2.93"/><circle cx="97.09" cy="280.70" r="2.93"/><circle cx="105.70" cy="288.70" r="2.93"/><circle cx="114.32" cy="291.60" r="2.93"/><circle cx="122.94" cy="296.70" r="2.93"/><circle cx="131.55" cy="369.00" r="2.93"/><circle cx="140.16" cy="324.50" r="2.93"/><circle cx="148.78" cy="309.10" r="2.93"/><circle cx="157.39" cy="343.80" r="2.93"/><circle cx="166.01" cy="390.50" r="2.93"/><circle cx="174.62" cy="373.00" r="2.93"/><circle cx="183.24" cy="367.80" r="2.93"/><circle cx="191.85" cy="362.00" r="2.93"/><circle cx="200.47" cy="392.70" r="2.93"/><circle cx="209.09" cy="354.00" r="2.93"/><circle cx="217.70" cy="356.20" r="2.93"/></g>
</g>
<rect x="45.40" y="254.50" width="172.30" height="176.00" fill="none" stroke="#5a5a5a" stroke-width="1.15"/>
<rect x="53.70" y="378.20" width="52.30" height="40.30" fill="#fff" stroke="#707070" stroke-width="0.9"/>
<path d="M56.50 385.50H67.30" stroke="#0072BD" stroke-width="3.8"/>
<circle cx="67.30" cy="385.50" r="3.0" fill="#0072BD"/>
<text x="79.60" y="389.50" class="lg" textLength="22.70" lengthAdjust="spacingAndGlyphs">Case 1</text>
<path d="M56.50 399.10H67.30" stroke="#D95319" stroke-width="3.8"/>
<circle cx="67.30" cy="399.10" r="3.0" fill="#D95319"/>
<text x="79.60" y="403.10" class="lg" textLength="22.70" lengthAdjust="spacingAndGlyphs">Case 2</text>
<path d="M56.50 411.70H67.30" stroke="#EDB120" stroke-width="3.8"/>
<circle cx="67.30" cy="411.70" r="3.0" fill="#EDB120"/>
<text x="79.60" y="415.70" class="lg" textLength="22.70" lengthAdjust="spacingAndGlyphs">Case 3</text>
<clipPath id="cpe"><rect x="264.6" y="254.4" width="189.2" height="179.8"/></clipPath>
<path d="M268.60 430.20v-2.2M268.60 258.40v2.2M304.84 430.20v-2.2M304.84 258.40v2.2M341.08 430.20v-2.2M341.08 258.40v2.2M377.32 430.20v-2.2M377.32 258.40v2.2M413.56 430.20v-2.2M413.56 258.40v2.2M449.80 430.20v-2.2M449.80 258.40v2.2M268.60 430.20h2.2M449.80 430.20h-2.2M268.60 404.34h1.3M449.80 404.34h-1.3M268.60 389.22h1.3M449.80 389.22h-1.3M268.60 378.48h1.3M449.80 378.48h-1.3M268.60 370.16h1.3M449.80 370.16h-1.3M268.60 363.36h1.3M449.80 363.36h-1.3M268.60 357.61h1.3M449.80 357.61h-1.3M268.60 352.62h1.3M449.80 352.62h-1.3M268.60 348.23h1.3M449.80 348.23h-1.3M268.60 344.30h2.2M449.80 344.30h-2.2M268.60 318.44h1.3M449.80 318.44h-1.3M268.60 303.32h1.3M449.80 303.32h-1.3M268.60 292.58h1.3M449.80 292.58h-1.3M268.60 284.26h1.3M449.80 284.26h-1.3M268.60 277.46h1.3M449.80 277.46h-1.3M268.60 271.71h1.3M449.80 271.71h-1.3M268.60 266.72h1.3M449.80 266.72h-1.3M268.60 262.33h1.3M449.80 262.33h-1.3M268.60 258.40h2.2M449.80 258.40h-2.2" stroke="#4d4d4d" stroke-width="0.6" fill="none"/>
<g transform="translate(268.60,430.20) scale(1.11)"><text x="-1.70" y="15.00" class="tk" textLength="3.4" lengthAdjust="spacingAndGlyphs">0</text></g>
<g transform="translate(304.84,430.20) scale(1.11)"><text x="-5.25" y="15.00" class="tk" textLength="10.5" lengthAdjust="spacingAndGlyphs">0.2</text></g>
<g transform="translate(341.08,430.20) scale(1.11)"><text x="-5.25" y="15.00" class="tk" textLength="10.5" lengthAdjust="spacingAndGlyphs">0.4</text></g>
<g transform="translate(377.32,430.20) scale(1.11)"><text x="-5.25" y="15.00" class="tk" textLength="10.5" lengthAdjust="spacingAndGlyphs">0.6</text></g>
<g transform="translate(413.56,430.20) scale(1.11)"><text x="-5.25" y="15.00" class="tk" textLength="10.5" lengthAdjust="spacingAndGlyphs">0.8</text></g>
<g transform="translate(449.80,430.20) scale(1.11)"><use href="#one1" transform="translate(-2.151,15.0) scale(0.004785,-0.004785)"/></g>
<g transform="translate(268.60,258.40) scale(1.11)"><use href="#one1" transform="translate(-17.9,5.9) scale(0.003819,-0.004785)"/><text x="-13.55" y="5.9" class="tk" textLength="4.35" lengthAdjust="spacingAndGlyphs">0</text><text x="-8.6" y="1.0" class="sup" textLength="5.4" lengthAdjust="spacingAndGlyphs">-4</text></g>
<g transform="translate(268.60,344.30) scale(1.11)"><use href="#one1" transform="translate(-17.9,5.9) scale(0.003819,-0.004785)"/><text x="-13.55" y="5.9" class="tk" textLength="4.35" lengthAdjust="spacingAndGlyphs">0</text><text x="-8.6" y="1.0" class="sup" textLength="5.4" lengthAdjust="spacingAndGlyphs">-5</text></g>
<g transform="translate(268.60,430.20) scale(1.11)"><use href="#one1" transform="translate(-17.9,5.9) scale(0.003819,-0.004785)"/><text x="-13.55" y="5.9" class="tk" textLength="4.35" lengthAdjust="spacingAndGlyphs">0</text><text x="-8.6" y="1.0" class="sup" textLength="5.4" lengthAdjust="spacingAndGlyphs">-6</text></g>
<g transform="translate(359.20,453.10) scale(1.11)"><text x="-12.5" y="8.2" class="lab" textLength="25.2" lengthAdjust="spacingAndGlyphs">Inputs</text></g>
<g transform="translate(268.60,344.30) scale(1.11)"><text transform="translate(-21.5,0) rotate(-90) scale(1,0.88)" class="lab2" text-anchor="middle">AE</text></g>
<g clip-path="url(#cpe)">
<path d="M268.60 299.50 L277.66 341.00 L286.72 383.20 L295.78 359.10 L304.84 320.70 L313.90 367.80 L322.96 325.00 L332.02 396.30 L341.08 328.00 L350.14 371.50 L359.20 322.20 L368.26 340.60 L377.32 303.20 L386.38 352.50 L395.44 341.10 L404.50 330.20 L413.56 320.70 L422.62 325.80 L431.68 352.50 L440.74 324.30 L449.80 319.20" stroke="#0072BD" class="ln" stroke-width="3.94" stroke-dasharray="15.97 15.97" stroke-dashoffset="0.45"/>
<g fill="#0072BD"><circle cx="268.60" cy="299.50" r="2.93"/><circle cx="277.66" cy="341.00" r="2.93"/><circle cx="286.72" cy="383.20" r="2.93"/><circle cx="295.78" cy="359.10" r="2.93"/><circle cx="304.84" cy="320.70" r="2.93"/><circle cx="313.90" cy="367.80" r="2.93"/><circle cx="322.96" cy="325.00" r="2.93"/><circle cx="332.02" cy="396.30" r="2.93"/><circle cx="341.08" cy="328.00" r="2.93"/><circle cx="350.14" cy="371.50" r="2.93"/><circle cx="359.20" cy="322.20" r="2.93"/><circle cx="368.26" cy="340.60" r="2.93"/><circle cx="377.32" cy="303.20" r="2.93"/><circle cx="386.38" cy="352.50" r="2.93"/><circle cx="395.44" cy="341.10" r="2.93"/><circle cx="404.50" cy="330.20" r="2.93"/><circle cx="413.56" cy="320.70" r="2.93"/><circle cx="422.62" cy="325.80" r="2.93"/><circle cx="431.68" cy="352.50" r="2.93"/><circle cx="440.74" cy="324.30" r="2.93"/><circle cx="449.80" cy="319.20" r="2.93"/></g>
<path d="M268.60 301.70 L277.66 298.00 L286.72 289.30 L295.78 321.40 L304.84 330.20 L313.90 318.50 L322.96 302.40 L332.02 357.30 L341.08 301.00 L350.14 306.80 L359.20 309.00 L368.26 288.60 L377.32 301.70" stroke="#D95319" class="ln" stroke-width="3.94" stroke-dasharray="15.97 15.97" stroke-dashoffset="3.00"/>
<path d="M377.32 301.70 L386.38 381.00 L395.44 378.80" stroke="#D95319" class="ln" stroke-width="3.94" stroke-dasharray="15.97 15.97" stroke-dashoffset="1.95"/>
<path d="M395.44 378.80 L404.50 350.30" stroke="#D95319" class="ln" stroke-width="3.94" stroke-dasharray="15.97 15.97" stroke-dashoffset="29.95"/>
<path d="M404.50 350.30 L413.56 298.80 L422.62 288.60 L431.68 314.90 L440.74 296.60 L449.80 293.70" stroke="#D95319" class="ln" stroke-width="3.94" stroke-dasharray="15.97 15.97" stroke-dashoffset="29.95"/>
<g fill="#D95319"><circle cx="268.60" cy="301.70" r="2.93"/><circle cx="277.66" cy="298.00" r="2.93"/><circle cx="286.72" cy="289.30" r="2.93"/><circle cx="295.78" cy="321.40" r="2.93"/><circle cx="304.84" cy="330.20" r="2.93"/><circle cx="313.90" cy="318.50" r="2.93"/><circle cx="322.96" cy="302.40" r="2.93"/><circle cx="332.02" cy="357.30" r="2.93"/><circle cx="341.08" cy="301.00" r="2.93"/><circle cx="350.14" cy="306.80" r="2.93"/><circle cx="359.20" cy="309.00" r="2.93"/><circle cx="368.26" cy="288.60" r="2.93"/><circle cx="377.32" cy="301.70" r="2.93"/><circle cx="386.38" cy="381.00" r="2.93"/><circle cx="395.44" cy="378.80" r="2.93"/><circle cx="404.50" cy="350.30" r="2.93"/><circle cx="413.56" cy="298.80" r="2.93"/><circle cx="422.62" cy="288.60" r="2.93"/><circle cx="431.68" cy="314.90" r="2.93"/><circle cx="440.74" cy="296.60" r="2.93"/><circle cx="449.80" cy="293.70" r="2.93"/></g>
<path d="M268.60 385.40 L277.66 290.00 L286.72 309.70 L295.78 319.20 L304.84 339.00 L313.90 362.00 L322.96 320.70 L332.02 383.20 L341.08 326.50 L350.14 327.30" stroke="#EDB120" class="ln" stroke-width="3.94" stroke-dasharray="15.97 15.97" stroke-dashoffset="30.90"/>
<path d="M350.14 327.30 L359.20 427.00 L368.26 356.20 L377.32 334.60 L386.38 334.60 L395.44 288.60 L404.50 286.40" stroke="#EDB120" class="ln" stroke-width="3.94" stroke-dasharray="15.97 15.97" stroke-dashoffset="11.95"/>
<path d="M404.50 286.40 L413.56 351.00 L422.62 278.40 L431.68 303.20 L440.74 278.40 L449.80 273.20" stroke="#EDB120" class="ln" stroke-width="3.94" stroke-dasharray="15.97 15.97" stroke-dashoffset="21.25"/>
<g fill="#EDB120"><circle cx="268.60" cy="385.40" r="2.93"/><circle cx="277.66" cy="290.00" r="2.93"/><circle cx="286.72" cy="309.70" r="2.93"/><circle cx="295.78" cy="319.20" r="2.93"/><circle cx="304.84" cy="339.00" r="2.93"/><circle cx="313.90" cy="362.00" r="2.93"/><circle cx="322.96" cy="320.70" r="2.93"/><circle cx="332.02" cy="383.20" r="2.93"/><circle cx="341.08" cy="326.50" r="2.93"/><circle cx="350.14" cy="327.30" r="2.93"/><circle cx="359.20" cy="427.00" r="2.93"/><circle cx="368.26" cy="356.20" r="2.93"/><circle cx="377.32" cy="334.60" r="2.93"/><circle cx="386.38" cy="334.60" r="2.93"/><circle cx="395.44" cy="288.60" r="2.93"/><circle cx="404.50" cy="286.40" r="2.93"/><circle cx="413.56" cy="351.00" r="2.93"/><circle cx="422.62" cy="278.40" r="2.93"/><circle cx="431.68" cy="303.20" r="2.93"/><circle cx="440.74" cy="278.40" r="2.93"/><circle cx="449.80" cy="273.20" r="2.93"/></g>
</g>
<rect x="268.60" y="258.40" width="181.20" height="171.80" fill="none" stroke="#5a5a5a" stroke-width="1.15"/>
<rect x="389.30" y="385.20" width="54.70" height="40.10" fill="#fff" stroke="#707070" stroke-width="0.9"/>
<path d="M392.10 392.90H403.40" stroke="#0072BD" stroke-width="3.8"/>
<circle cx="403.40" cy="392.90" r="3.0" fill="#0072BD"/>
<text x="416.10" y="396.90" class="lg" textLength="24.70" lengthAdjust="spacingAndGlyphs">Case 1</text>
<path d="M392.10 405.70H403.40" stroke="#D95319" stroke-width="3.8"/>
<circle cx="403.40" cy="405.70" r="3.0" fill="#D95319"/>
<text x="416.10" y="409.70" class="lg" textLength="24.70" lengthAdjust="spacingAndGlyphs">Case 2</text>
<path d="M392.10 418.40H403.40" stroke="#EDB120" stroke-width="3.8"/>
<circle cx="403.40" cy="418.40" r="3.0" fill="#EDB120"/>
<text x="416.10" y="422.40" class="lg" textLength="24.70" lengthAdjust="spacingAndGlyphs">Case 3</text>
<clipPath id="cpf"><rect x="494.7" y="253.0" width="183.4" height="181.3"/></clipPath>
<path d="M498.70 430.30v-2.2M498.70 257.00v2.2M533.78 430.30v-2.2M533.78 257.00v2.2M568.86 430.30v-2.2M568.86 257.00v2.2M603.94 430.30v-2.2M603.94 257.00v2.2M639.02 430.30v-2.2M639.02 257.00v2.2M674.10 430.30v-2.2M674.10 257.00v2.2M498.70 430.30h2.2M674.10 430.30h-2.2M498.70 412.91h1.3M674.10 412.91h-1.3M498.70 402.74h1.3M674.10 402.74h-1.3M498.70 395.52h1.3M674.10 395.52h-1.3M498.70 389.92h1.3M674.10 389.92h-1.3M498.70 385.35h1.3M674.10 385.35h-1.3M498.70 381.48h1.3M674.10 381.48h-1.3M498.70 378.13h1.3M674.10 378.13h-1.3M498.70 375.18h1.3M674.10 375.18h-1.3M498.70 372.53h2.2M674.10 372.53h-2.2M498.70 355.14h1.3M674.10 355.14h-1.3M498.70 344.97h1.3M674.10 344.97h-1.3M498.70 337.75h1.3M674.10 337.75h-1.3M498.70 332.16h1.3M674.10 332.16h-1.3M498.70 327.58h1.3M674.10 327.58h-1.3M498.70 323.71h1.3M674.10 323.71h-1.3M498.70 320.36h1.3M674.10 320.36h-1.3M498.70 317.41h1.3M674.10 317.41h-1.3M498.70 314.77h2.2M674.10 314.77h-2.2M498.70 297.38h1.3M674.10 297.38h-1.3M498.70 287.20h1.3M674.10 287.20h-1.3M498.70 279.99h1.3M674.10 279.99h-1.3M498.70 274.39h1.3M674.10 274.39h-1.3M498.70 269.82h1.3M674.10 269.82h-1.3M498.70 265.95h1.3M674.10 265.95h-1.3M498.70 262.60h1.3M674.10 262.60h-1.3M498.70 259.64h1.3M674.10 259.64h-1.3M498.70 257.00h2.2M674.10 257.00h-2.2" stroke="#4d4d4d" stroke-width="0.6" fill="none"/>
<g transform="translate(498.70,430.30) scale(1.08)"><text x="-1.70" y="15.00" class="tk" textLength="3.4" lengthAdjust="spacingAndGlyphs">0</text></g>
<g transform="translate(533.78,430.30) scale(1.08)"><text x="-5.25" y="15.00" class="tk" textLength="10.5" lengthAdjust="spacingAndGlyphs">0.2</text></g>
<g transform="translate(568.86,430.30) scale(1.08)"><text x="-5.25" y="15.00" class="tk" textLength="10.5" lengthAdjust="spacingAndGlyphs">0.4</text></g>
<g transform="translate(603.94,430.30) scale(1.08)"><text x="-5.25" y="15.00" class="tk" textLength="10.5" lengthAdjust="spacingAndGlyphs">0.6</text></g>
<g transform="translate(639.02,430.30) scale(1.08)"><text x="-5.25" y="15.00" class="tk" textLength="10.5" lengthAdjust="spacingAndGlyphs">0.8</text></g>
<g transform="translate(674.10,430.30) scale(1.08)"><use href="#one1" transform="translate(-2.151,15.0) scale(0.004785,-0.004785)"/></g>
<g transform="translate(498.70,257.00) scale(1.08)"><use href="#one1" transform="translate(-17.9,5.9) scale(0.003819,-0.004785)"/><text x="-13.55" y="5.9" class="tk" textLength="4.35" lengthAdjust="spacingAndGlyphs">0</text><text x="-8.6" y="1.0" class="sup" textLength="5.4" lengthAdjust="spacingAndGlyphs">-4</text></g>
<g transform="translate(498.70,314.77) scale(1.08)"><use href="#one1" transform="translate(-17.9,5.9) scale(0.003819,-0.004785)"/><text x="-13.55" y="5.9" class="tk" textLength="4.35" lengthAdjust="spacingAndGlyphs">0</text><text x="-8.6" y="1.0" class="sup" textLength="5.4" lengthAdjust="spacingAndGlyphs">-5</text></g>
<g transform="translate(498.70,372.53) scale(1.08)"><use href="#one1" transform="translate(-17.9,5.9) scale(0.003819,-0.004785)"/><text x="-13.55" y="5.9" class="tk" textLength="4.35" lengthAdjust="spacingAndGlyphs">0</text><text x="-8.6" y="1.0" class="sup" textLength="5.4" lengthAdjust="spacingAndGlyphs">-6</text></g>
<g transform="translate(498.70,430.30) scale(1.08)"><use href="#one1" transform="translate(-17.9,5.9) scale(0.003819,-0.004785)"/><text x="-13.55" y="5.9" class="tk" textLength="4.35" lengthAdjust="spacingAndGlyphs">0</text><text x="-8.6" y="1.0" class="sup" textLength="5.4" lengthAdjust="spacingAndGlyphs">-7</text></g>
<g transform="translate(586.40,453.10) scale(1.08)"><text x="-12.5" y="8.2" class="lab" textLength="25.2" lengthAdjust="spacingAndGlyphs">Inputs</text></g>
<g transform="translate(498.70,343.65) scale(1.08)"><text transform="translate(-21.5,0) rotate(-90) scale(1,0.88)" class="lab2" text-anchor="middle">AE</text></g>
<g clip-path="url(#cpf)">
<path d="M498.70 296.70 L507.47 322.00 L516.24 297.40" stroke="#0072BD" class="ln" stroke-width="3.89" stroke-dasharray="15.75 15.75" stroke-dashoffset="3.00"/>
<path d="M516.24 297.40 L525.01 408.00 L533.78 304.00 L542.55 311.30 L551.32 305.50 L560.09 291.60 L568.86 311.30 L577.63 290.10 L586.40 314.20 L595.17 285.00 L603.94 293.80" stroke="#0072BD" class="ln" stroke-width="3.89" stroke-dasharray="15.75 15.75" stroke-dashoffset="23.10"/>
<path d="M603.94 293.80 L612.71 389.00 L621.48 301.80 L630.25 301.80 L639.02 294.50 L647.79 299.60 L656.56 320.00 L665.33 301.80 L674.10 309.90" stroke="#0072BD" class="ln" stroke-width="3.89" stroke-dasharray="15.75 15.75" stroke-dashoffset="27.30"/>
<g fill="#0072BD"><circle cx="498.70" cy="296.70" r="2.89"/><circle cx="507.47" cy="322.00" r="2.89"/><circle cx="516.24" cy="297.40" r="2.89"/><circle cx="525.01" cy="408.00" r="2.89"/><circle cx="533.78" cy="304.00" r="2.89"/><circle cx="542.55" cy="311.30" r="2.89"/><circle cx="551.32" cy="305.50" r="2.89"/><circle cx="560.09" cy="291.60" r="2.89"/><circle cx="568.86" cy="311.30" r="2.89"/><circle cx="577.63" cy="290.10" r="2.89"/><circle cx="586.40" cy="314.20" r="2.89"/><circle cx="595.17" cy="285.00" r="2.89"/><circle cx="603.94" cy="293.80" r="2.89"/><circle cx="612.71" cy="389.00" r="2.89"/><circle cx="621.48" cy="301.80" r="2.89"/><circle cx="630.25" cy="301.80" r="2.89"/><circle cx="639.02" cy="294.50" r="2.89"/><circle cx="647.79" cy="299.60" r="2.89"/><circle cx="656.56" cy="320.00" r="2.89"/><circle cx="665.33" cy="301.80" r="2.89"/><circle cx="674.10" cy="309.90" r="2.89"/></g>
<path d="M498.70 282.10 L507.47 305.50 L516.24 280.70 L525.01 322.30 L533.78 275.50 L542.55 277.00 L551.32 317.20 L560.09 287.20 L568.86 338.20 L577.63 352.50 L586.40 340.00 L595.17 288.00 L603.94 288.70" stroke="#D95319" class="ln" stroke-width="3.89" stroke-dasharray="15.75 15.75" stroke-dashoffset="3.00"/>
<path d="M603.94 288.70 L612.71 363.50 L621.48 394.10" stroke="#D95319" class="ln" stroke-width="3.89" stroke-dasharray="15.75 15.75" stroke-dashoffset="21.40"/>
<path d="M621.48 394.10 L630.25 314.20 L639.02 290.90 L647.79 286.50 L656.56 308.40 L665.33 291.60 L674.10 285.80" stroke="#D95319" class="ln" stroke-width="3.89" stroke-dasharray="15.75 15.75" stroke-dashoffset="1.70"/>
<g fill="#D95319"><circle cx="498.70" cy="282.10" r="2.89"/><circle cx="507.47" cy="305.50" r="2.89"/><circle cx="516.24" cy="280.70" r="2.89"/><circle cx="525.01" cy="322.30" r="2.89"/><circle cx="533.78" cy="275.50" r="2.89"/><circle cx="542.55" cy="277.00" r="2.89"/><circle cx="551.32" cy="317.20" r="2.89"/><circle cx="560.09" cy="287.20" r="2.89"/><circle cx="568.86" cy="338.20" r="2.89"/><circle cx="577.63" cy="352.50" r="2.89"/><circle cx="586.40" cy="340.00" r="2.89"/><circle cx="595.17" cy="288.00" r="2.89"/><circle cx="603.94" cy="288.70" r="2.89"/><circle cx="612.71" cy="363.50" r="2.89"/><circle cx="621.48" cy="394.10" r="2.89"/><circle cx="630.25" cy="314.20" r="2.89"/><circle cx="639.02" cy="290.90" r="2.89"/><circle cx="647.79" cy="286.50" r="2.89"/><circle cx="656.56" cy="308.40" r="2.89"/><circle cx="665.33" cy="291.60" r="2.89"/><circle cx="674.10" cy="285.80" r="2.89"/></g>
<path d="M498.70 292.30 L507.47 329.60 L516.24 305.00 L525.01 283.30 L533.78 297.40 L542.55 287.20 L551.32 289.40 L560.09 286.50 L568.86 329.60 L577.63 293.80 L586.40 282.10 L595.17 279.20 L603.94 274.80 L612.71 319.30 L621.48 270.40 L630.25 270.40" stroke="#EDB120" class="ln" stroke-width="3.89" stroke-dasharray="15.75 15.75" stroke-dashoffset="3.00"/>
<path d="M630.25 270.40 L639.02 331.00" stroke="#EDB120" class="ln" stroke-width="3.89" stroke-dasharray="15.75 15.75" stroke-dashoffset="22.20"/>
<path d="M639.02 331.00 L647.79 266.00 L656.56 285.80 L665.33 269.00 L674.10 266.80" stroke="#EDB120" class="ln" stroke-width="3.89" stroke-dasharray="15.75 15.75" stroke-dashoffset="28.80"/>
<g fill="#EDB120"><circle cx="498.70" cy="292.30" r="2.89"/><circle cx="507.47" cy="329.60" r="2.89"/><circle cx="516.24" cy="305.00" r="2.89"/><circle cx="525.01" cy="283.30" r="2.89"/><circle cx="533.78" cy="297.40" r="2.89"/><circle cx="542.55" cy="287.20" r="2.89"/><circle cx="551.32" cy="289.40" r="2.89"/><circle cx="560.09" cy="286.50" r="2.89"/><circle cx="568.86" cy="329.60" r="2.89"/><circle cx="577.63" cy="293.80" r="2.89"/><circle cx="586.40" cy="282.10" r="2.89"/><circle cx="595.17" cy="279.20" r="2.89"/><circle cx="603.94" cy="274.80" r="2.89"/><circle cx="612.71" cy="319.30" r="2.89"/><circle cx="621.48" cy="270.40" r="2.89"/><circle cx="630.25" cy="270.40" r="2.89"/><circle cx="639.02" cy="331.00" r="2.89"/><circle cx="647.79" cy="266.00" r="2.89"/><circle cx="656.56" cy="285.80" r="2.89"/><circle cx="665.33" cy="269.00" r="2.89"/><circle cx="674.10" cy="266.80" r="2.89"/></g>
</g>
<rect x="498.70" y="257.00" width="175.40" height="173.30" fill="none" stroke="#5a5a5a" stroke-width="1.15"/>
<rect x="540.20" y="381.10" width="52.30" height="40.40" fill="#fff" stroke="#707070" stroke-width="0.9"/>
<path d="M542.60 388.80H553.30" stroke="#0072BD" stroke-width="3.8"/>
<circle cx="553.30" cy="388.80" r="3.0" fill="#0072BD"/>
<text x="565.70" y="392.80" class="lg" textLength="23.70" lengthAdjust="spacingAndGlyphs">Case 1</text>
<path d="M542.60 401.60H553.30" stroke="#D95319" stroke-width="3.8"/>
<circle cx="553.30" cy="401.60" r="3.0" fill="#D95319"/>
<text x="565.70" y="405.60" class="lg" textLength="23.70" lengthAdjust="spacingAndGlyphs">Case 2</text>
<path d="M542.60 414.10H553.30" stroke="#EDB120" stroke-width="3.8"/>
<circle cx="553.30" cy="414.10" r="3.0" fill="#EDB120"/>
<text x="565.70" y="418.10" class="lg" textLength="23.70" lengthAdjust="spacingAndGlyphs">Case 3</text>
<clipPath id="cpg"><rect x="152.0" y="493.4" width="191.2" height="183.3"/></clipPath>
<path d="M156.00 672.70v-2.2M156.00 497.40v2.2M192.64 672.70v-2.2M192.64 497.40v2.2M229.28 672.70v-2.2M229.28 497.40v2.2M265.92 672.70v-2.2M265.92 497.40v2.2M302.56 672.70v-2.2M302.56 497.40v2.2M339.20 672.70v-2.2M339.20 497.40v2.2M156.00 669.39h1.3M339.20 669.39h-1.3M156.00 664.64h1.3M339.20 664.64h-1.3M156.00 660.95h1.3M339.20 660.95h-1.3M156.00 657.94h1.3M339.20 657.94h-1.3M156.00 655.39h1.3M339.20 655.39h-1.3M156.00 653.19h1.3M339.20 653.19h-1.3M156.00 651.24h1.3M339.20 651.24h-1.3M156.00 649.50h2.2M339.20 649.50h-2.2M156.00 638.06h1.3M339.20 638.06h-1.3M156.00 631.36h1.3M339.20 631.36h-1.3M156.00 626.61h1.3M339.20 626.61h-1.3M156.00 622.93h1.3M339.20 622.93h-1.3M156.00 619.91h1.3M339.20 619.91h-1.3M156.00 617.37h1.3M339.20 617.37h-1.3M156.00 615.16h1.3M339.20 615.16h-1.3M156.00 613.22h1.3M339.20 613.22h-1.3M156.00 611.48h2.2M339.20 611.48h-2.2M156.00 600.03h1.3M339.20 600.03h-1.3M156.00 593.34h1.3M339.20 593.34h-1.3M156.00 588.58h1.3M339.20 588.58h-1.3M156.00 584.90h1.3M339.20 584.90h-1.3M156.00 581.89h1.3M339.20 581.89h-1.3M156.00 579.34h1.3M339.20 579.34h-1.3M156.00 577.14h1.3M339.20 577.14h-1.3M156.00 575.19h1.3M339.20 575.19h-1.3M156.00 573.45h2.2M339.20 573.45h-2.2M156.00 562.01h1.3M339.20 562.01h-1.3M156.00 555.31h1.3M339.20 555.31h-1.3M156.00 550.56h1.3M339.20 550.56h-1.3M156.00 546.87h1.3M339.20 546.87h-1.3M156.00 543.86h1.3M339.20 543.86h-1.3M156.00 541.32h1.3M339.20 541.32h-1.3M156.00 539.11h1.3M339.20 539.11h-1.3M156.00 537.17h1.3M339.20 537.17h-1.3M156.00 535.43h2.2M339.20 535.43h-2.2M156.00 523.98h1.3M339.20 523.98h-1.3M156.00 517.28h1.3M339.20 517.28h-1.3M156.00 512.53h1.3M339.20 512.53h-1.3M156.00 508.85h1.3M339.20 508.85h-1.3M156.00 505.84h1.3M339.20 505.84h-1.3M156.00 503.29h1.3M339.20 503.29h-1.3M156.00 501.09h1.3M339.20 501.09h-1.3M156.00 499.14h1.3M339.20 499.14h-1.3M156.00 497.40h2.2M339.20 497.40h-2.2" stroke="#4d4d4d" stroke-width="0.6" fill="none"/>
<g transform="translate(156.00,672.70) scale(1.12)"><text x="-1.70" y="15.00" class="tk" textLength="3.4" lengthAdjust="spacingAndGlyphs">0</text></g>
<g transform="translate(192.64,672.70) scale(1.12)"><text x="-5.25" y="15.00" class="tk" textLength="10.5" lengthAdjust="spacingAndGlyphs">0.2</text></g>
<g transform="translate(229.28,672.70) scale(1.12)"><text x="-5.25" y="15.00" class="tk" textLength="10.5" lengthAdjust="spacingAndGlyphs">0.4</text></g>
<g transform="translate(265.92,672.70) scale(1.12)"><text x="-5.25" y="15.00" class="tk" textLength="10.5" lengthAdjust="spacingAndGlyphs">0.6</text></g>
<g transform="translate(302.56,672.70) scale(1.12)"><text x="-5.25" y="15.00" class="tk" textLength="10.5" lengthAdjust="spacingAndGlyphs">0.8</text></g>
<g transform="translate(339.20,672.70) scale(1.12)"><use href="#one1" transform="translate(-2.151,15.0) scale(0.004785,-0.004785)"/></g>
<g transform="translate(156.00,497.40) scale(1.12)"><use href="#one1" transform="translate(-17.9,5.9) scale(0.003819,-0.004785)"/><text x="-13.55" y="5.9" class="tk" textLength="4.35" lengthAdjust="spacingAndGlyphs">0</text><text x="-8.6" y="1.0" class="sup" textLength="5.4" lengthAdjust="spacingAndGlyphs">-4</text></g>
<g transform="translate(156.00,573.45) scale(1.12)"><use href="#one1" transform="translate(-17.9,5.9) scale(0.003819,-0.004785)"/><text x="-13.55" y="5.9" class="tk" textLength="4.35" lengthAdjust="spacingAndGlyphs">0</text><text x="-8.6" y="1.0" class="sup" textLength="5.4" lengthAdjust="spacingAndGlyphs">-6</text></g>
<g transform="translate(156.00,649.50) scale(1.12)"><use href="#one1" transform="translate(-17.9,5.9) scale(0.003819,-0.004785)"/><text x="-13.55" y="5.9" class="tk" textLength="4.35" lengthAdjust="spacingAndGlyphs">0</text><text x="-8.6" y="1.0" class="sup" textLength="5.4" lengthAdjust="spacingAndGlyphs">-8</text></g>
<g transform="translate(247.60,695.00) scale(1.12)"><text x="-12.5" y="8.2" class="lab" textLength="25.2" lengthAdjust="spacingAndGlyphs">Inputs</text></g>
<g transform="translate(156.00,585.05) scale(1.12)"><text transform="translate(-21.5,0) rotate(-90) scale(1,0.88)" class="lab2" text-anchor="middle">AE</text></g>
<g clip-path="url(#cpg)">
<path d="M156.00 539.60 L165.16 550.60 L174.32 532.00 L183.48 519.90 L192.64 528.70 L201.80 536.00 L210.96 538.20 L220.12 539.60" stroke="#0072BD" class="ln" stroke-width="3.92" stroke-dasharray="15.90 15.90" stroke-dashoffset="3.00"/>
<path d="M220.12 539.60 L229.28 609.90 L238.44 673.40" stroke="#0072BD" class="ln" stroke-width="3.92" stroke-dasharray="15.90 15.90" stroke-dashoffset="5.90"/>
<path d="M238.44 673.40 L247.60 557.90 L256.76 537.40 L265.92 546.90 L275.08 544.70 L284.24 551.30" stroke="#0072BD" class="ln" stroke-width="3.92" stroke-dasharray="15.90 15.90" stroke-dashoffset="12.60"/>
<path d="M284.24 551.30 L293.40 614.30 L302.56 573.00 L311.72 557.90 L320.88 573.00 L330.04 574.70 L339.20 561.50" stroke="#0072BD" class="ln" stroke-width="3.92" stroke-dasharray="15.90 15.90" stroke-dashoffset="29.00"/>
<g fill="#0072BD"><circle cx="156.00" cy="539.60" r="2.92"/><circle cx="165.16" cy="550.60" r="2.92"/><circle cx="174.32" cy="532.00" r="2.92"/><circle cx="183.48" cy="519.90" r="2.92"/><circle cx="192.64" cy="528.70" r="2.92"/><circle cx="201.80" cy="536.00" r="2.92"/><circle cx="210.96" cy="538.20" r="2.92"/><circle cx="220.12" cy="539.60" r="2.92"/><circle cx="229.28" cy="609.90" r="2.92"/><circle cx="238.44" cy="673.40" r="2.92"/><circle cx="247.60" cy="557.90" r="2.92"/><circle cx="256.76" cy="537.40" r="2.92"/><circle cx="265.92" cy="546.90" r="2.92"/><circle cx="275.08" cy="544.70" r="2.92"/><circle cx="284.24" cy="551.30" r="2.92"/><circle cx="293.40" cy="614.30" r="2.92"/><circle cx="302.56" cy="573.00" r="2.92"/><circle cx="311.72" cy="557.90" r="2.92"/><circle cx="320.88" cy="573.00" r="2.92"/><circle cx="330.04" cy="574.70" r="2.92"/><circle cx="339.20" cy="561.50" r="2.92"/></g>
<path d="M156.00 513.40 L165.16 520.70 L174.32 515.50 L183.48 516.30 L192.64 525.00 L201.80 506.00 L210.96 530.10 L220.12 517.70 L229.28 562.30 L238.44 529.40 L247.60 555.00 L256.76 550.60" stroke="#D95319" class="ln" stroke-width="3.92" stroke-dasharray="15.90 15.90" stroke-dashoffset="3.00"/>
<path d="M256.76 550.60 L265.92 590.20 L275.08 560.80 L284.24 579.00 L293.40 564.50 L302.56 582.20 L311.72 583.60 L320.88 574.70 L330.04 588.80 L339.20 590.00" stroke="#D95319" class="ln" stroke-width="3.92" stroke-dasharray="15.90 15.90" stroke-dashoffset="17.50"/>
<g fill="#D95319"><circle cx="156.00" cy="513.40" r="2.92"/><circle cx="165.16" cy="520.70" r="2.92"/><circle cx="174.32" cy="515.50" r="2.92"/><circle cx="183.48" cy="516.30" r="2.92"/><circle cx="192.64" cy="525.00" r="2.92"/><circle cx="201.80" cy="506.00" r="2.92"/><circle cx="210.96" cy="530.10" r="2.92"/><circle cx="220.12" cy="517.70" r="2.92"/><circle cx="229.28" cy="562.30" r="2.92"/><circle cx="238.44" cy="529.40" r="2.92"/><circle cx="247.60" cy="555.00" r="2.92"/><circle cx="256.76" cy="550.60" r="2.92"/><circle cx="265.92" cy="590.20" r="2.92"/><circle cx="275.08" cy="560.80" r="2.92"/><circle cx="284.24" cy="579.00" r="2.92"/><circle cx="293.40" cy="564.50" r="2.92"/><circle cx="302.56" cy="582.20" r="2.92"/><circle cx="311.72" cy="583.60" r="2.92"/><circle cx="320.88" cy="574.70" r="2.92"/><circle cx="330.04" cy="588.80" r="2.92"/><circle cx="339.20" cy="590.00" r="2.92"/></g>
<path d="M156.00 530.10 L165.16 510.40 L174.32 517.00 L183.48 513.40 L192.64 540.40 L201.80 528.00 L210.96 536.00 L220.12 538.20 L229.28 530.10 L238.44 524.30 L247.60 514.10 L256.76 517.70 L265.92 520.70" stroke="#EDB120" class="ln" stroke-width="3.92" stroke-dasharray="15.90 15.90" stroke-dashoffset="3.00"/>
<path d="M265.92 520.70 L275.08 567.00 L284.24 532.30 L293.40 531.60 L302.56 563.00 L311.72 538.20 L320.88 546.20 L330.04 551.30 L339.20 562.30" stroke="#EDB120" class="ln" stroke-width="3.92" stroke-dasharray="15.90 15.90" stroke-dashoffset="19.30"/>
<g fill="#EDB120"><circle cx="156.00" cy="530.10" r="2.92"/><circle cx="165.16" cy="510.40" r="2.92"/><circle cx="174.32" cy="517.00" r="2.92"/><circle cx="183.48" cy="513.40" r="2.92"/><circle cx="192.64" cy="540.40" r="2.92"/><circle cx="201.80" cy="528.00" r="2.92"/><circle cx="210.96" cy="536.00" r="2.92"/><circle cx="220.12" cy="538.20" r="2.92"/><circle cx="229.28" cy="530.10" r="2.92"/><circle cx="238.44" cy="524.30" r="2.92"/><circle cx="247.60" cy="514.10" r="2.92"/><circle cx="256.76" cy="517.70" r="2.92"/><circle cx="265.92" cy="520.70" r="2.92"/><circle cx="275.08" cy="567.00" r="2.92"/><circle cx="284.24" cy="532.30" r="2.92"/><circle cx="293.40" cy="531.60" r="2.92"/><circle cx="302.56" cy="563.00" r="2.92"/><circle cx="311.72" cy="538.20" r="2.92"/><circle cx="320.88" cy="546.20" r="2.92"/><circle cx="330.04" cy="551.30" r="2.92"/><circle cx="339.20" cy="562.30" r="2.92"/></g>
</g>
<rect x="156.00" y="497.40" width="183.20" height="175.30" fill="none" stroke="#5a5a5a" stroke-width="1.15"/>
<rect x="160.00" y="618.70" width="54.60" height="40.90" fill="#fff" stroke="#707070" stroke-width="0.9"/>
<path d="M162.80 626.10H174.00" stroke="#0072BD" stroke-width="3.8"/>
<circle cx="174.00" cy="626.10" r="3.0" fill="#0072BD"/>
<text x="186.70" y="630.10" class="lg" textLength="24.70" lengthAdjust="spacingAndGlyphs">Case 1</text>
<path d="M162.80 639.60H174.00" stroke="#D95319" stroke-width="3.8"/>
<circle cx="174.00" cy="639.60" r="3.0" fill="#D95319"/>
<text x="186.70" y="643.60" class="lg" textLength="24.70" lengthAdjust="spacingAndGlyphs">Case 2</text>
<path d="M162.80 652.20H174.00" stroke="#EDB120" stroke-width="3.8"/>
<circle cx="174.00" cy="652.20" r="3.0" fill="#EDB120"/>
<text x="186.70" y="656.20" class="lg" textLength="24.70" lengthAdjust="spacingAndGlyphs">Case 3</text>
<clipPath id="cph"><rect x="382.4" y="495.0" width="193.5" height="182.2"/></clipPath>
<path d="M386.40 673.20v-2.2M386.40 499.00v2.2M423.50 673.20v-2.2M423.50 499.00v2.2M460.60 673.20v-2.2M460.60 499.00v2.2M497.70 673.20v-2.2M497.70 499.00v2.2M534.80 673.20v-2.2M534.80 499.00v2.2M571.90 673.20v-2.2M571.90 499.00v2.2M386.40 662.60h1.3M571.90 662.60h-1.3M386.40 653.01h1.3M571.90 653.01h-1.3M386.40 645.17h1.3M571.90 645.17h-1.3M386.40 638.55h1.3M571.90 638.55h-1.3M386.40 632.81h1.3M571.90 632.81h-1.3M386.40 627.75h1.3M571.90 627.75h-1.3M386.40 623.22h2.2M571.90 623.22h-2.2M386.40 593.42h1.3M571.90 593.42h-1.3M386.40 575.99h1.3M571.90 575.99h-1.3M386.40 563.63h1.3M571.90 563.63h-1.3M386.40 554.03h1.3M571.90 554.03h-1.3M386.40 546.20h1.3M571.90 546.20h-1.3M386.40 539.57h1.3M571.90 539.57h-1.3M386.40 533.83h1.3M571.90 533.83h-1.3M386.40 528.77h1.3M571.90 528.77h-1.3M386.40 524.24h2.2M571.90 524.24h-2.2" stroke="#4d4d4d" stroke-width="0.6" fill="none"/>
<g transform="translate(386.40,673.20) scale(0.99)"><text x="-1.70" y="15.00" class="tk" textLength="3.4" lengthAdjust="spacingAndGlyphs">0</text></g>
<g transform="translate(423.50,673.20) scale(0.99)"><text x="-5.25" y="15.00" class="tk" textLength="10.5" lengthAdjust="spacingAndGlyphs">0.2</text></g>
<g transform="translate(460.60,673.20) scale(0.99)"><text x="-5.25" y="15.00" class="tk" textLength="10.5" lengthAdjust="spacingAndGlyphs">0.4</text></g>
<g transform="translate(497.70,673.20) scale(0.99)"><text x="-5.25" y="15.00" class="tk" textLength="10.5" lengthAdjust="spacingAndGlyphs">0.6</text></g>
<g transform="translate(534.80,673.20) scale(0.99)"><text x="-5.25" y="15.00" class="tk" textLength="10.5" lengthAdjust="spacingAndGlyphs">0.8</text></g>
<g transform="translate(571.90,673.20) scale(0.99)"><use href="#one1" transform="translate(-2.151,15.0) scale(0.004785,-0.004785)"/></g>
<g transform="translate(386.40,524.24) scale(0.99)"><use href="#one1" transform="translate(-17.9,5.9) scale(0.003819,-0.004785)"/><text x="-13.55" y="5.9" class="tk" textLength="4.35" lengthAdjust="spacingAndGlyphs">0</text><text x="-8.6" y="1.0" class="sup" textLength="5.4" lengthAdjust="spacingAndGlyphs">-4</text></g>
<g transform="translate(386.40,623.22) scale(0.99)"><use href="#one1" transform="translate(-17.9,5.9) scale(0.003819,-0.004785)"/><text x="-13.55" y="5.9" class="tk" textLength="4.35" lengthAdjust="spacingAndGlyphs">0</text><text x="-8.6" y="1.0" class="sup" textLength="5.4" lengthAdjust="spacingAndGlyphs">-5</text></g>
<g transform="translate(479.15,694.40) scale(0.99)"><text x="-12.5" y="8.2" class="lab" textLength="25.2" lengthAdjust="spacingAndGlyphs">Inputs</text></g>
<g transform="translate(386.40,586.10) scale(0.99)"><text transform="translate(-21.5,0) rotate(-90) scale(1,0.88)" class="lab2" text-anchor="middle">AE</text></g>
<g clip-path="url(#cph)">
<path d="M386.40 674.60 L395.67 631.10" stroke="#0072BD" class="ln" stroke-width="3.70" stroke-dasharray="15.00 15.00" stroke-dashoffset="29.80"/>
<path d="M395.67 631.10 L404.95 672.00 L414.22 565.00 L423.50 546.10 L432.77 517.60 L442.05 519.10 L451.32 549.70 L460.60 581.50 L469.88 583.00 L479.15 591.70 L488.42 591.00 L497.70 532.20 L506.97 546.10 L516.25 616.50 L525.52 636.90" stroke="#0072BD" class="ln" stroke-width="3.70" stroke-dasharray="15.00 15.00" stroke-dashoffset="11.30"/>
<path d="M525.52 636.90 L534.80 522.00 L544.08 514.10 L553.35 534.80 L562.62 554.50 L571.90 554.50" stroke="#0072BD" class="ln" stroke-width="3.70" stroke-dasharray="15.00 15.00" stroke-dashoffset="16.70"/>
<g fill="#0072BD"><circle cx="386.40" cy="674.60" r="2.75"/><circle cx="395.67" cy="631.10" r="2.75"/><circle cx="404.95" cy="672.00" r="2.75"/><circle cx="414.22" cy="565.00" r="2.75"/><circle cx="423.50" cy="546.10" r="2.75"/><circle cx="432.77" cy="517.60" r="2.75"/><circle cx="442.05" cy="519.10" r="2.75"/><circle cx="451.32" cy="549.70" r="2.75"/><circle cx="460.60" cy="581.50" r="2.75"/><circle cx="469.88" cy="583.00" r="2.75"/><circle cx="479.15" cy="591.70" r="2.75"/><circle cx="488.42" cy="591.00" r="2.75"/><circle cx="497.70" cy="532.20" r="2.75"/><circle cx="506.97" cy="546.10" r="2.75"/><circle cx="516.25" cy="616.50" r="2.75"/><circle cx="525.52" cy="636.90" r="2.75"/><circle cx="534.80" cy="522.00" r="2.75"/><circle cx="544.08" cy="514.10" r="2.75"/><circle cx="553.35" cy="534.80" r="2.75"/><circle cx="562.62" cy="554.50" r="2.75"/><circle cx="571.90" cy="554.50" r="2.75"/></g>
<path d="M386.40 498.60 L395.67 511.10 L404.95 534.40 L414.22 640.60 L423.50 562.00 L432.77 537.00 L442.05 533.70 L451.32 565.00 L460.60 573.80 L469.88 541.70 L479.15 529.30 L488.42 533.20 L497.70 545.00 L506.97 595.30 L516.25 540.20 L525.52 556.10 L534.80 539.20 L544.08 521.70 L553.35 545.20 L562.62 558.30 L571.90 529.90" stroke="#D95319" class="ln" stroke-width="3.70" stroke-dasharray="15.00 15.00" stroke-dashoffset="3.00"/>
<g fill="#D95319"><circle cx="386.40" cy="498.60" r="2.75"/><circle cx="395.67" cy="511.10" r="2.75"/><circle cx="404.95" cy="534.40" r="2.75"/><circle cx="414.22" cy="640.60" r="2.75"/><circle cx="423.50" cy="562.00" r="2.75"/><circle cx="432.77" cy="537.00" r="2.75"/><circle cx="442.05" cy="533.70" r="2.75"/><circle cx="451.32" cy="565.00" r="2.75"/><circle cx="460.60" cy="573.80" r="2.75"/><circle cx="469.88" cy="541.70" r="2.75"/><circle cx="479.15" cy="529.30" r="2.75"/><circle cx="488.42" cy="533.20" r="2.75"/><circle cx="497.70" cy="545.00" r="2.75"/><circle cx="506.97" cy="595.30" r="2.75"/><circle cx="516.25" cy="540.20" r="2.75"/><circle cx="525.52" cy="556.10" r="2.75"/><circle cx="534.80" cy="539.20" r="2.75"/><circle cx="544.08" cy="521.70" r="2.75"/><circle cx="553.35" cy="545.20" r="2.75"/><circle cx="562.62" cy="558.30" r="2.75"/><circle cx="571.90" cy="529.90" r="2.75"/></g>
<path d="M386.40 554.90 L395.67 535.10" stroke="#EDB120" class="ln" stroke-width="3.70" stroke-dasharray="15.00 15.00" stroke-dashoffset="3.00"/>
<path d="M395.67 535.10 L404.95 596.80 L414.22 514.00 L423.50 508.90 L432.77 510.30 L442.05 513.20 L451.32 538.80 L460.60 554.90 L469.88 561.40 L479.15 569.50" stroke="#EDB120" class="ln" stroke-width="3.70" stroke-dasharray="15.00 15.00" stroke-dashoffset="22.70"/>
<path d="M479.15 569.50 L488.42 637.00 L497.70 539.60 L506.97 522.70 L516.25 499.40 L525.52 500.50 L534.80 527.70 L544.08 545.20 L553.35 542.50 L562.62 535.00 L571.90 505.90" stroke="#EDB120" class="ln" stroke-width="3.70" stroke-dasharray="15.00 15.00" stroke-dashoffset="7.60"/>
<g fill="#EDB120"><circle cx="386.40" cy="554.90" r="2.75"/><circle cx="395.67" cy="535.10" r="2.75"/><circle cx="404.95" cy="596.80" r="2.75"/><circle cx="414.22" cy="514.00" r="2.75"/><circle cx="423.50" cy="508.90" r="2.75"/><circle cx="432.77" cy="510.30" r="2.75"/><circle cx="442.05" cy="513.20" r="2.75"/><circle cx="451.32" cy="538.80" r="2.75"/><circle cx="460.60" cy="554.90" r="2.75"/><circle cx="469.88" cy="561.40" r="2.75"/><circle cx="479.15" cy="569.50" r="2.75"/><circle cx="488.42" cy="637.00" r="2.75"/><circle cx="497.70" cy="539.60" r="2.75"/><circle cx="506.97" cy="522.70" r="2.75"/><circle cx="516.25" cy="499.40" r="2.75"/><circle cx="525.52" cy="500.50" r="2.75"/><circle cx="534.80" cy="527.70" r="2.75"/><circle cx="544.08" cy="545.20" r="2.75"/><circle cx="553.35" cy="542.50" r="2.75"/><circle cx="562.62" cy="535.00" r="2.75"/><circle cx="571.90" cy="505.90" r="2.75"/></g>
</g>
<rect x="386.40" y="499.00" width="185.50" height="174.20" fill="none" stroke="#5a5a5a" stroke-width="1.15"/>
<rect x="427.40" y="627.10" width="48.30" height="38.20" fill="#fff" stroke="#707070" stroke-width="0.9"/>
<path d="M430.20 633.90H439.90" stroke="#0072BD" stroke-width="3.8"/>
<circle cx="439.90" cy="633.90" r="3.0" fill="#0072BD"/>
<text x="451.10" y="637.90" class="lg" textLength="22.10" lengthAdjust="spacingAndGlyphs">Case 1</text>
<path d="M430.20 646.50H439.90" stroke="#D95319" stroke-width="3.8"/>
<circle cx="439.90" cy="646.50" r="3.0" fill="#D95319"/>
<text x="451.10" y="650.50" class="lg" textLength="22.10" lengthAdjust="spacingAndGlyphs">Case 2</text>
<path d="M430.20 658.70H439.90" stroke="#EDB120" stroke-width="3.8"/>
<circle cx="439.90" cy="658.70" r="3.0" fill="#EDB120"/>
<text x="451.10" y="662.70" class="lg" textLength="22.10" lengthAdjust="spacingAndGlyphs">Case 3</text>
<rect x="20" y="245.5" width="24" height="5.2" fill="#fff"/>
</g>
<g filter="url(#idf)">
<text x="59.80" y="241.30" class="cap" textLength="14.50" lengthAdjust="spacingAndGlyphs">(a)</text>
<text x="81.70" y="241.30" class="cap it" textLength="18.4" lengthAdjust="spacingAndGlyphs">AE</text>
<text x="112.10" y="241.30" class="cap it" textLength="18.3" lengthAdjust="spacingAndGlyphs">for</text>
<text x="142.40" y="241.50" class="cap it" style="font-size:12.8px" textLength="7.00" lengthAdjust="spacingAndGlyphs">S</text>
<text x="150.50" y="243.30" class="cap sb">h</text>
<text x="157.90" y="241.30" class="cap" textLength="13.10" lengthAdjust="spacingAndGlyphs">(t)</text>
<text x="289.80" y="241.30" class="cap" textLength="14.50" lengthAdjust="spacingAndGlyphs">(b)</text>
<text x="311.70" y="241.30" class="cap it" textLength="18.4" lengthAdjust="spacingAndGlyphs">AE</text>
<text x="342.10" y="241.30" class="cap it" textLength="18.3" lengthAdjust="spacingAndGlyphs">for</text>
<text x="372.40" y="241.50" class="cap it" style="font-size:12.8px" textLength="9.30" lengthAdjust="spacingAndGlyphs">E</text>
<text x="382.20" y="243.30" class="cap sb">h</text>
<text x="389.00" y="241.30" class="cap" textLength="13.00" lengthAdjust="spacingAndGlyphs">(t)</text>
<text x="518.80" y="241.30" class="cap" textLength="13.60" lengthAdjust="spacingAndGlyphs">(c)</text>
<text x="539.80" y="241.30" class="cap it" textLength="18.4" lengthAdjust="spacingAndGlyphs">AE</text>
<text x="570.70" y="241.30" class="cap it" textLength="18.3" lengthAdjust="spacingAndGlyphs">for</text>
<text x="600.70" y="241.50" class="cap it" style="font-size:12.8px" textLength="4.60" lengthAdjust="spacingAndGlyphs">I</text>
<text x="606.10" y="243.30" class="cap sb">h</text>
<text x="614.10" y="241.30" class="cap" textLength="12.60" lengthAdjust="spacingAndGlyphs">(t)</text>
<text x="58.80" y="485.10" class="cap" textLength="15.10" lengthAdjust="spacingAndGlyphs">(d)</text>
<text x="81.30" y="485.10" class="cap it" textLength="18.4" lengthAdjust="spacingAndGlyphs">AE</text>
<text x="111.50" y="485.10" class="cap it" textLength="18.3" lengthAdjust="spacingAndGlyphs">for</text>
<text x="141.40" y="485.30" class="cap it" style="font-size:12.8px" textLength="9.00" lengthAdjust="spacingAndGlyphs">Q</text>
<text x="151.80" y="487.10" class="cap sb">h</text>
<text x="159.50" y="485.10" class="cap" textLength="12.60" lengthAdjust="spacingAndGlyphs">(t)</text>
<text x="286.90" y="485.10" class="cap" textLength="13.60" lengthAdjust="spacingAndGlyphs">(e)</text>
<text x="307.90" y="485.10" class="cap it" textLength="18.4" lengthAdjust="spacingAndGlyphs">AE</text>
<text x="338.30" y="485.10" class="cap it" textLength="18.3" lengthAdjust="spacingAndGlyphs">for</text>
<text x="368.80" y="485.30" class="cap it" style="font-size:12.8px" textLength="7.90" lengthAdjust="spacingAndGlyphs">R</text>
<text x="377.80" y="487.10" class="cap sb">h</text>
<text x="385.50" y="485.10" class="cap" textLength="12.90" lengthAdjust="spacingAndGlyphs">(t)</text>
<text x="515.60" y="485.10" class="cap" textLength="13.00" lengthAdjust="spacingAndGlyphs">(f)</text>
<text x="536.00" y="485.10" class="cap it" textLength="18.4" lengthAdjust="spacingAndGlyphs">AE</text>
<text x="565.80" y="485.10" class="cap it" textLength="18.3" lengthAdjust="spacingAndGlyphs">for</text>
<text x="596.20" y="485.30" class="cap it" style="font-size:12.8px" textLength="7.30" lengthAdjust="spacingAndGlyphs">S</text>
<text x="604.00" y="487.10" class="cap sb">r</text>
<text x="610.30" y="485.10" class="cap" textLength="12.80" lengthAdjust="spacingAndGlyphs">(t)</text>
<text x="173.90" y="728.00" class="cap" textLength="14.10" lengthAdjust="spacingAndGlyphs">(g)</text>
<text x="195.40" y="728.00" class="cap it" textLength="18.4" lengthAdjust="spacingAndGlyphs">AE</text>
<text x="225.70" y="728.00" class="cap it" textLength="18.3" lengthAdjust="spacingAndGlyphs">for</text>
<text x="256.20" y="728.20" class="cap it" style="font-size:12.8px" textLength="8.80" lengthAdjust="spacingAndGlyphs">E</text>
<text x="265.20" y="730.00" class="cap sb">r</text>
<text x="271.10" y="728.00" class="cap" textLength="13.00" lengthAdjust="spacingAndGlyphs">(t)</text>
<text x="409.50" y="728.00" class="cap" textLength="15.20" lengthAdjust="spacingAndGlyphs">(h)</text>
<text x="432.10" y="728.00" class="cap it" textLength="18.4" lengthAdjust="spacingAndGlyphs">AE</text>
<text x="462.80" y="728.00" class="cap it" textLength="18.3" lengthAdjust="spacingAndGlyphs">for</text>
<text x="492.40" y="728.20" class="cap it" style="font-size:12.8px" textLength="4.70" lengthAdjust="spacingAndGlyphs">I</text>
<text x="497.90" y="730.00" class="cap sb">r</text>
<text x="504.10" y="728.00" class="cap" textLength="12.60" lengthAdjust="spacingAndGlyphs">(t)</text>
</g>
</svg></body></html>
